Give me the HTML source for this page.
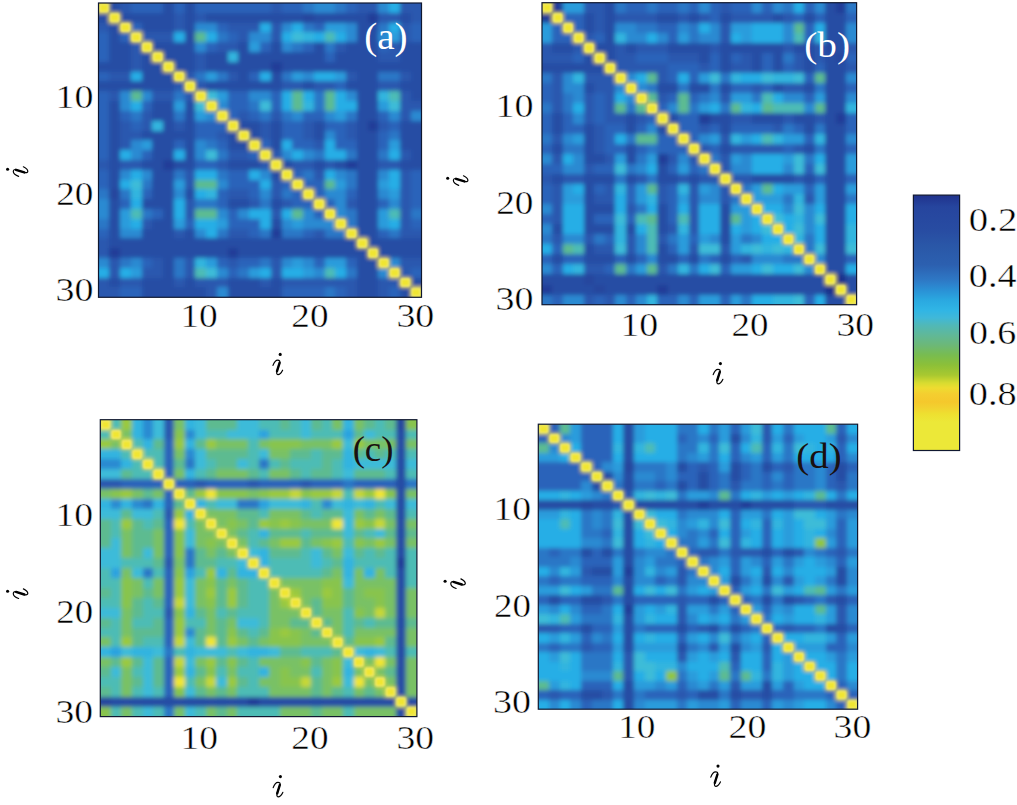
<!DOCTYPE html><html><head><meta charset="utf-8"><style>html,body{margin:0;padding:0;background:#fff;width:1017px;height:805px;overflow:hidden}svg{display:block;font-family:"Liberation Serif",serif}</style></head><body><svg width="1017" height="805" viewBox="0 0 1017 805" font-family="Liberation Serif"><rect width="1017" height="805" fill="#fff"/><svg x="98.5" y="3.0" width="323.00" height="294.30" viewBox="0 0 30 30" preserveAspectRatio="none"><defs><filter id="bla" x="-2" y="-2" width="34" height="34" filterUnits="userSpaceOnUse"><feGaussianBlur stdDeviation="0.1858 0.2039"/></filter><filter id="bda" x="-2" y="-2" width="34" height="34" filterUnits="userSpaceOnUse"><feGaussianBlur stdDeviation="0.0836 0.0917"/></filter></defs><g filter="url(#bla)" shape-rendering="crispEdges"><path fill="#f0e632" d="M-1 -1h1v1h-1zM0 -1h1v1h-1zM-1 0h1v1h-1zM0 0h1v1h-1zM1 1h1v1h-1zM2 2h1v1h-1zM3 3h1v1h-1zM4 4h1v1h-1zM5 5h1v1h-1zM6 6h1v1h-1zM7 7h1v1h-1zM8 8h1v1h-1zM9 9h1v1h-1zM10 10h1v1h-1zM11 11h1v1h-1zM12 12h1v1h-1zM13 13h1v1h-1zM14 14h1v1h-1zM15 15h1v1h-1zM16 16h1v1h-1zM17 17h1v1h-1zM18 18h1v1h-1zM19 19h1v1h-1zM20 20h1v1h-1zM21 21h1v1h-1zM22 22h1v1h-1zM23 23h1v1h-1zM24 24h1v1h-1zM25 25h1v1h-1zM26 26h1v1h-1zM27 27h1v1h-1zM28 28h1v1h-1zM29 29h1v1h-1zM30 29h1v1h-1zM29 30h1v1h-1zM30 30h1v1h-1z"/><path fill="#284ea4" d="M1 -1h1v1h-1zM6 -1h1v1h-1zM8 -1h1v1h-1zM1 0h1v1h-1zM6 0h1v1h-1zM8 0h1v1h-1zM-1 1h1v1h-1zM0 1h1v1h-1zM2 1h1v1h-1zM3 1h1v1h-1zM4 1h1v1h-1zM5 1h1v1h-1zM6 1h1v1h-1zM8 1h1v1h-1zM10 1h1v1h-1zM11 1h1v1h-1zM12 1h1v1h-1zM13 1h1v1h-1zM14 1h1v1h-1zM15 1h1v1h-1zM16 1h1v1h-1zM17 1h1v1h-1zM18 1h1v1h-1zM20 1h1v1h-1zM21 1h1v1h-1zM22 1h1v1h-1zM23 1h1v1h-1zM24 1h1v1h-1zM28 1h1v1h-1zM1 2h1v1h-1zM4 2h1v1h-1zM5 2h1v1h-1zM6 2h1v1h-1zM8 2h1v1h-1zM24 2h1v1h-1zM25 2h1v1h-1zM1 3h1v1h-1zM8 3h1v1h-1zM24 3h1v1h-1zM25 3h1v1h-1zM1 4h1v1h-1zM2 4h1v1h-1zM5 4h1v1h-1zM6 4h1v1h-1zM7 4h1v1h-1zM8 4h1v1h-1zM13 4h1v1h-1zM16 4h1v1h-1zM20 4h1v1h-1zM23 4h1v1h-1zM24 4h1v1h-1zM25 4h1v1h-1zM28 4h1v1h-1zM29 4h1v1h-1zM30 4h1v1h-1zM1 5h1v1h-1zM2 5h1v1h-1zM4 5h1v1h-1zM6 5h1v1h-1zM7 5h1v1h-1zM8 5h1v1h-1zM10 5h1v1h-1zM11 5h1v1h-1zM13 5h1v1h-1zM14 5h1v1h-1zM15 5h1v1h-1zM16 5h1v1h-1zM17 5h1v1h-1zM18 5h1v1h-1zM19 5h1v1h-1zM20 5h1v1h-1zM22 5h1v1h-1zM23 5h1v1h-1zM24 5h1v1h-1zM25 5h1v1h-1zM28 5h1v1h-1zM29 5h1v1h-1zM30 5h1v1h-1zM-1 6h1v1h-1zM0 6h1v1h-1zM1 6h1v1h-1zM2 6h1v1h-1zM4 6h1v1h-1zM5 6h1v1h-1zM7 6h1v1h-1zM8 6h1v1h-1zM10 6h1v1h-1zM11 6h1v1h-1zM12 6h1v1h-1zM13 6h1v1h-1zM14 6h1v1h-1zM15 6h1v1h-1zM17 6h1v1h-1zM18 6h1v1h-1zM19 6h1v1h-1zM20 6h1v1h-1zM21 6h1v1h-1zM22 6h1v1h-1zM23 6h1v1h-1zM24 6h1v1h-1zM25 6h1v1h-1zM26 6h1v1h-1zM27 6h1v1h-1zM28 6h1v1h-1zM29 6h1v1h-1zM30 6h1v1h-1zM4 7h1v1h-1zM5 7h1v1h-1zM6 7h1v1h-1zM13 7h1v1h-1zM16 7h1v1h-1zM24 7h1v1h-1zM25 7h1v1h-1zM29 7h1v1h-1zM30 7h1v1h-1zM-1 8h1v1h-1zM0 8h1v1h-1zM1 8h1v1h-1zM2 8h1v1h-1zM3 8h1v1h-1zM4 8h1v1h-1zM5 8h1v1h-1zM6 8h1v1h-1zM10 8h1v1h-1zM11 8h1v1h-1zM12 8h1v1h-1zM13 8h1v1h-1zM14 8h1v1h-1zM15 8h1v1h-1zM16 8h1v1h-1zM19 8h1v1h-1zM23 8h1v1h-1zM24 8h1v1h-1zM25 8h1v1h-1zM28 8h1v1h-1zM29 8h1v1h-1zM30 8h1v1h-1zM24 9h1v1h-1zM25 9h1v1h-1zM29 9h1v1h-1zM30 9h1v1h-1zM1 10h1v1h-1zM5 10h1v1h-1zM6 10h1v1h-1zM8 10h1v1h-1zM24 10h1v1h-1zM25 10h1v1h-1zM1 11h1v1h-1zM5 11h1v1h-1zM6 11h1v1h-1zM8 11h1v1h-1zM24 11h1v1h-1zM25 11h1v1h-1zM1 12h1v1h-1zM6 12h1v1h-1zM8 12h1v1h-1zM13 12h1v1h-1zM14 12h1v1h-1zM16 12h1v1h-1zM20 12h1v1h-1zM24 12h1v1h-1zM28 12h1v1h-1zM29 12h1v1h-1zM30 12h1v1h-1zM1 13h1v1h-1zM4 13h1v1h-1zM5 13h1v1h-1zM6 13h1v1h-1zM7 13h1v1h-1zM8 13h1v1h-1zM12 13h1v1h-1zM14 13h1v1h-1zM16 13h1v1h-1zM20 13h1v1h-1zM24 13h1v1h-1zM25 13h1v1h-1zM28 13h1v1h-1zM29 13h1v1h-1zM30 13h1v1h-1zM1 14h1v1h-1zM5 14h1v1h-1zM6 14h1v1h-1zM8 14h1v1h-1zM12 14h1v1h-1zM13 14h1v1h-1zM16 14h1v1h-1zM24 14h1v1h-1zM25 14h1v1h-1zM28 14h1v1h-1zM29 14h1v1h-1zM30 14h1v1h-1zM1 15h1v1h-1zM5 15h1v1h-1zM6 15h1v1h-1zM8 15h1v1h-1zM24 15h1v1h-1zM25 15h1v1h-1zM29 15h1v1h-1zM30 15h1v1h-1zM1 16h1v1h-1zM4 16h1v1h-1zM5 16h1v1h-1zM7 16h1v1h-1zM8 16h1v1h-1zM12 16h1v1h-1zM13 16h1v1h-1zM14 16h1v1h-1zM17 16h1v1h-1zM20 16h1v1h-1zM22 16h1v1h-1zM24 16h1v1h-1zM25 16h1v1h-1zM28 16h1v1h-1zM29 16h1v1h-1zM30 16h1v1h-1zM1 17h1v1h-1zM5 17h1v1h-1zM6 17h1v1h-1zM16 17h1v1h-1zM24 17h1v1h-1zM25 17h1v1h-1zM1 18h1v1h-1zM5 18h1v1h-1zM6 18h1v1h-1zM24 18h1v1h-1zM25 18h1v1h-1zM5 19h1v1h-1zM6 19h1v1h-1zM8 19h1v1h-1zM24 19h1v1h-1zM25 19h1v1h-1zM1 20h1v1h-1zM4 20h1v1h-1zM5 20h1v1h-1zM6 20h1v1h-1zM12 20h1v1h-1zM13 20h1v1h-1zM16 20h1v1h-1zM24 20h1v1h-1zM25 20h1v1h-1zM1 21h1v1h-1zM6 21h1v1h-1zM24 21h1v1h-1zM25 21h1v1h-1zM1 22h1v1h-1zM5 22h1v1h-1zM6 22h1v1h-1zM16 22h1v1h-1zM24 22h1v1h-1zM25 22h1v1h-1zM1 23h1v1h-1zM4 23h1v1h-1zM5 23h1v1h-1zM6 23h1v1h-1zM8 23h1v1h-1zM24 23h1v1h-1zM25 23h1v1h-1zM1 24h1v1h-1zM2 24h1v1h-1zM3 24h1v1h-1zM4 24h1v1h-1zM5 24h1v1h-1zM6 24h1v1h-1zM7 24h1v1h-1zM8 24h1v1h-1zM9 24h1v1h-1zM10 24h1v1h-1zM11 24h1v1h-1zM12 24h1v1h-1zM13 24h1v1h-1zM14 24h1v1h-1zM15 24h1v1h-1zM16 24h1v1h-1zM17 24h1v1h-1zM18 24h1v1h-1zM19 24h1v1h-1zM20 24h1v1h-1zM21 24h1v1h-1zM22 24h1v1h-1zM23 24h1v1h-1zM25 24h1v1h-1zM26 24h1v1h-1zM27 24h1v1h-1zM28 24h1v1h-1zM29 24h1v1h-1zM30 24h1v1h-1zM2 25h1v1h-1zM3 25h1v1h-1zM4 25h1v1h-1zM5 25h1v1h-1zM6 25h1v1h-1zM7 25h1v1h-1zM8 25h1v1h-1zM9 25h1v1h-1zM10 25h1v1h-1zM11 25h1v1h-1zM13 25h1v1h-1zM14 25h1v1h-1zM15 25h1v1h-1zM16 25h1v1h-1zM17 25h1v1h-1zM18 25h1v1h-1zM19 25h1v1h-1zM20 25h1v1h-1zM21 25h1v1h-1zM22 25h1v1h-1zM23 25h1v1h-1zM24 25h1v1h-1zM26 25h1v1h-1zM27 25h1v1h-1zM28 25h1v1h-1zM29 25h1v1h-1zM30 25h1v1h-1zM6 26h1v1h-1zM24 26h1v1h-1zM25 26h1v1h-1zM6 27h1v1h-1zM24 27h1v1h-1zM25 27h1v1h-1zM1 28h1v1h-1zM4 28h1v1h-1zM5 28h1v1h-1zM6 28h1v1h-1zM8 28h1v1h-1zM12 28h1v1h-1zM13 28h1v1h-1zM14 28h1v1h-1zM16 28h1v1h-1zM24 28h1v1h-1zM25 28h1v1h-1zM29 28h1v1h-1zM30 28h1v1h-1zM4 29h1v1h-1zM5 29h1v1h-1zM6 29h1v1h-1zM7 29h1v1h-1zM8 29h1v1h-1zM9 29h1v1h-1zM12 29h1v1h-1zM13 29h1v1h-1zM14 29h1v1h-1zM15 29h1v1h-1zM16 29h1v1h-1zM24 29h1v1h-1zM25 29h1v1h-1zM28 29h1v1h-1zM4 30h1v1h-1zM5 30h1v1h-1zM6 30h1v1h-1zM7 30h1v1h-1zM8 30h1v1h-1zM9 30h1v1h-1zM12 30h1v1h-1zM13 30h1v1h-1zM14 30h1v1h-1zM15 30h1v1h-1zM16 30h1v1h-1zM24 30h1v1h-1zM25 30h1v1h-1zM28 30h1v1h-1z"/><path fill="#2a59af" d="M2 -1h1v1h-1zM16 -1h1v1h-1zM24 -1h1v1h-1zM25 -1h1v1h-1zM28 -1h1v1h-1zM29 -1h1v1h-1zM30 -1h1v1h-1zM2 0h1v1h-1zM16 0h1v1h-1zM24 0h1v1h-1zM25 0h1v1h-1zM28 0h1v1h-1zM29 0h1v1h-1zM30 0h1v1h-1zM7 1h1v1h-1zM9 1h1v1h-1zM26 1h1v1h-1zM27 1h1v1h-1zM29 1h1v1h-1zM30 1h1v1h-1zM-1 2h1v1h-1zM0 2h1v1h-1zM7 2h1v1h-1zM12 2h1v1h-1zM13 2h1v1h-1zM14 2h1v1h-1zM16 2h1v1h-1zM28 2h1v1h-1zM4 3h1v1h-1zM5 3h1v1h-1zM6 3h1v1h-1zM13 3h1v1h-1zM16 3h1v1h-1zM28 3h1v1h-1zM3 4h1v1h-1zM11 4h1v1h-1zM12 4h1v1h-1zM22 4h1v1h-1zM27 4h1v1h-1zM3 5h1v1h-1zM9 5h1v1h-1zM26 5h1v1h-1zM27 5h1v1h-1zM3 6h1v1h-1zM9 6h1v1h-1zM1 7h1v1h-1zM2 7h1v1h-1zM8 7h1v1h-1zM12 7h1v1h-1zM23 7h1v1h-1zM28 7h1v1h-1zM7 8h1v1h-1zM9 8h1v1h-1zM17 8h1v1h-1zM18 8h1v1h-1zM20 8h1v1h-1zM21 8h1v1h-1zM26 8h1v1h-1zM27 8h1v1h-1zM1 9h1v1h-1zM5 9h1v1h-1zM6 9h1v1h-1zM8 9h1v1h-1zM28 9h1v1h-1zM28 10h1v1h-1zM29 10h1v1h-1zM30 10h1v1h-1zM4 11h1v1h-1zM13 11h1v1h-1zM16 11h1v1h-1zM28 11h1v1h-1zM2 12h1v1h-1zM4 12h1v1h-1zM7 12h1v1h-1zM15 12h1v1h-1zM19 12h1v1h-1zM23 12h1v1h-1zM26 12h1v1h-1zM2 13h1v1h-1zM3 13h1v1h-1zM11 13h1v1h-1zM15 13h1v1h-1zM19 13h1v1h-1zM23 13h1v1h-1zM2 14h1v1h-1zM20 14h1v1h-1zM12 15h1v1h-1zM13 15h1v1h-1zM16 15h1v1h-1zM28 15h1v1h-1zM-1 16h1v1h-1zM0 16h1v1h-1zM2 16h1v1h-1zM3 16h1v1h-1zM11 16h1v1h-1zM15 16h1v1h-1zM18 16h1v1h-1zM19 16h1v1h-1zM21 16h1v1h-1zM26 16h1v1h-1zM27 16h1v1h-1zM8 17h1v1h-1zM20 17h1v1h-1zM28 17h1v1h-1zM8 18h1v1h-1zM16 18h1v1h-1zM28 18h1v1h-1zM12 19h1v1h-1zM13 19h1v1h-1zM16 19h1v1h-1zM28 19h1v1h-1zM8 20h1v1h-1zM14 20h1v1h-1zM17 20h1v1h-1zM23 20h1v1h-1zM28 20h1v1h-1zM8 21h1v1h-1zM16 21h1v1h-1zM28 21h1v1h-1zM4 22h1v1h-1zM28 22h1v1h-1zM7 23h1v1h-1zM12 23h1v1h-1zM13 23h1v1h-1zM20 23h1v1h-1zM28 23h1v1h-1zM29 23h1v1h-1zM30 23h1v1h-1zM-1 24h1v1h-1zM0 24h1v1h-1zM-1 25h1v1h-1zM0 25h1v1h-1zM1 26h1v1h-1zM5 26h1v1h-1zM8 26h1v1h-1zM12 26h1v1h-1zM16 26h1v1h-1zM28 26h1v1h-1zM29 26h1v1h-1zM30 26h1v1h-1zM1 27h1v1h-1zM4 27h1v1h-1zM5 27h1v1h-1zM8 27h1v1h-1zM16 27h1v1h-1zM28 27h1v1h-1zM-1 28h1v1h-1zM0 28h1v1h-1zM2 28h1v1h-1zM3 28h1v1h-1zM7 28h1v1h-1zM9 28h1v1h-1zM10 28h1v1h-1zM11 28h1v1h-1zM15 28h1v1h-1zM17 28h1v1h-1zM18 28h1v1h-1zM19 28h1v1h-1zM20 28h1v1h-1zM21 28h1v1h-1zM22 28h1v1h-1zM23 28h1v1h-1zM26 28h1v1h-1zM27 28h1v1h-1zM-1 29h1v1h-1zM0 29h1v1h-1zM1 29h1v1h-1zM10 29h1v1h-1zM23 29h1v1h-1zM26 29h1v1h-1zM-1 30h1v1h-1zM0 30h1v1h-1zM1 30h1v1h-1zM10 30h1v1h-1zM23 30h1v1h-1zM26 30h1v1h-1z"/><path fill="#2b64ba" d="M3 -1h1v1h-1zM4 -1h1v1h-1zM5 -1h1v1h-1zM7 -1h1v1h-1zM9 -1h1v1h-1zM10 -1h1v1h-1zM11 -1h1v1h-1zM12 -1h1v1h-1zM13 -1h1v1h-1zM14 -1h1v1h-1zM15 -1h1v1h-1zM17 -1h1v1h-1zM18 -1h1v1h-1zM23 -1h1v1h-1zM3 0h1v1h-1zM4 0h1v1h-1zM5 0h1v1h-1zM7 0h1v1h-1zM9 0h1v1h-1zM10 0h1v1h-1zM11 0h1v1h-1zM12 0h1v1h-1zM13 0h1v1h-1zM14 0h1v1h-1zM15 0h1v1h-1zM17 0h1v1h-1zM18 0h1v1h-1zM23 0h1v1h-1zM3 2h1v1h-1zM11 2h1v1h-1zM20 2h1v1h-1zM29 2h1v1h-1zM30 2h1v1h-1zM-1 3h1v1h-1zM0 3h1v1h-1zM2 3h1v1h-1zM12 3h1v1h-1zM29 3h1v1h-1zM30 3h1v1h-1zM-1 4h1v1h-1zM0 4h1v1h-1zM10 4h1v1h-1zM15 4h1v1h-1zM19 4h1v1h-1zM26 4h1v1h-1zM-1 5h1v1h-1zM0 5h1v1h-1zM21 5h1v1h-1zM-1 7h1v1h-1zM0 7h1v1h-1zM14 7h1v1h-1zM22 8h1v1h-1zM-1 9h1v1h-1zM0 9h1v1h-1zM12 9h1v1h-1zM13 9h1v1h-1zM16 9h1v1h-1zM-1 10h1v1h-1zM0 10h1v1h-1zM4 10h1v1h-1zM12 10h1v1h-1zM13 10h1v1h-1zM16 10h1v1h-1zM-1 11h1v1h-1zM0 11h1v1h-1zM2 11h1v1h-1zM12 11h1v1h-1zM14 11h1v1h-1zM19 11h1v1h-1zM20 11h1v1h-1zM26 11h1v1h-1zM-1 12h1v1h-1zM0 12h1v1h-1zM3 12h1v1h-1zM9 12h1v1h-1zM10 12h1v1h-1zM11 12h1v1h-1zM17 12h1v1h-1zM18 12h1v1h-1zM21 12h1v1h-1zM22 12h1v1h-1zM27 12h1v1h-1zM-1 13h1v1h-1zM0 13h1v1h-1zM9 13h1v1h-1zM10 13h1v1h-1zM17 13h1v1h-1zM18 13h1v1h-1zM22 13h1v1h-1zM26 13h1v1h-1zM-1 14h1v1h-1zM0 14h1v1h-1zM7 14h1v1h-1zM11 14h1v1h-1zM15 14h1v1h-1zM18 14h1v1h-1zM19 14h1v1h-1zM22 14h1v1h-1zM23 14h1v1h-1zM26 14h1v1h-1zM-1 15h1v1h-1zM0 15h1v1h-1zM4 15h1v1h-1zM14 15h1v1h-1zM9 16h1v1h-1zM10 16h1v1h-1zM-1 17h1v1h-1zM0 17h1v1h-1zM12 17h1v1h-1zM13 17h1v1h-1zM18 17h1v1h-1zM29 17h1v1h-1zM30 17h1v1h-1zM-1 18h1v1h-1zM0 18h1v1h-1zM12 18h1v1h-1zM13 18h1v1h-1zM14 18h1v1h-1zM17 18h1v1h-1zM19 18h1v1h-1zM20 18h1v1h-1zM29 18h1v1h-1zM30 18h1v1h-1zM4 19h1v1h-1zM11 19h1v1h-1zM14 19h1v1h-1zM18 19h1v1h-1zM20 19h1v1h-1zM23 19h1v1h-1zM29 19h1v1h-1zM30 19h1v1h-1zM2 20h1v1h-1zM11 20h1v1h-1zM18 20h1v1h-1zM19 20h1v1h-1zM21 20h1v1h-1zM26 20h1v1h-1zM29 20h1v1h-1zM30 20h1v1h-1zM5 21h1v1h-1zM12 21h1v1h-1zM20 21h1v1h-1zM8 22h1v1h-1zM12 22h1v1h-1zM13 22h1v1h-1zM14 22h1v1h-1zM29 22h1v1h-1zM30 22h1v1h-1zM-1 23h1v1h-1zM0 23h1v1h-1zM14 23h1v1h-1zM19 23h1v1h-1zM26 23h1v1h-1zM4 26h1v1h-1zM11 26h1v1h-1zM13 26h1v1h-1zM14 26h1v1h-1zM20 26h1v1h-1zM23 26h1v1h-1zM12 27h1v1h-1zM29 27h1v1h-1zM30 27h1v1h-1zM2 29h1v1h-1zM3 29h1v1h-1zM17 29h1v1h-1zM18 29h1v1h-1zM19 29h1v1h-1zM20 29h1v1h-1zM22 29h1v1h-1zM27 29h1v1h-1zM2 30h1v1h-1zM3 30h1v1h-1zM17 30h1v1h-1zM18 30h1v1h-1zM19 30h1v1h-1zM20 30h1v1h-1zM22 30h1v1h-1zM27 30h1v1h-1z"/><path fill="#2a77c6" d="M19 -1h1v1h-1zM22 -1h1v1h-1zM19 0h1v1h-1zM22 0h1v1h-1zM19 2h1v1h-1zM26 2h1v1h-1zM11 3h1v1h-1zM18 4h1v1h-1zM21 4h1v1h-1zM9 7h1v1h-1zM11 7h1v1h-1zM17 7h1v1h-1zM26 7h1v1h-1zM27 7h1v1h-1zM7 9h1v1h-1zM20 9h1v1h-1zM14 10h1v1h-1zM20 10h1v1h-1zM3 11h1v1h-1zM7 11h1v1h-1zM15 11h1v1h-1zM17 11h1v1h-1zM23 11h1v1h-1zM27 13h1v1h-1zM10 14h1v1h-1zM11 15h1v1h-1zM20 15h1v1h-1zM23 15h1v1h-1zM26 15h1v1h-1zM7 17h1v1h-1zM11 17h1v1h-1zM19 17h1v1h-1zM23 17h1v1h-1zM4 18h1v1h-1zM23 18h1v1h-1zM-1 19h1v1h-1zM0 19h1v1h-1zM2 19h1v1h-1zM17 19h1v1h-1zM9 20h1v1h-1zM10 20h1v1h-1zM15 20h1v1h-1zM4 21h1v1h-1zM23 21h1v1h-1zM29 21h1v1h-1zM30 21h1v1h-1zM-1 22h1v1h-1zM0 22h1v1h-1zM23 22h1v1h-1zM11 23h1v1h-1zM15 23h1v1h-1zM17 23h1v1h-1zM18 23h1v1h-1zM21 23h1v1h-1zM22 23h1v1h-1zM27 23h1v1h-1zM2 26h1v1h-1zM7 26h1v1h-1zM15 26h1v1h-1zM7 27h1v1h-1zM13 27h1v1h-1zM23 27h1v1h-1zM21 29h1v1h-1zM21 30h1v1h-1z"/><path fill="#2a8ad2" d="M20 -1h1v1h-1zM21 -1h1v1h-1zM26 -1h1v1h-1zM20 0h1v1h-1zM21 0h1v1h-1zM26 0h1v1h-1zM9 2h1v1h-1zM10 2h1v1h-1zM17 2h1v1h-1zM23 2h1v1h-1zM14 3h1v1h-1zM15 3h1v1h-1zM23 3h1v1h-1zM26 3h1v1h-1zM9 4h1v1h-1zM17 4h1v1h-1zM19 7h1v1h-1zM2 9h1v1h-1zM4 9h1v1h-1zM14 9h1v1h-1zM15 9h1v1h-1zM23 9h1v1h-1zM2 10h1v1h-1zM11 10h1v1h-1zM10 11h1v1h-1zM18 11h1v1h-1zM21 11h1v1h-1zM27 11h1v1h-1zM29 11h1v1h-1zM30 11h1v1h-1zM21 13h1v1h-1zM3 14h1v1h-1zM9 14h1v1h-1zM3 15h1v1h-1zM9 15h1v1h-1zM17 15h1v1h-1zM19 15h1v1h-1zM2 17h1v1h-1zM4 17h1v1h-1zM15 17h1v1h-1zM22 17h1v1h-1zM26 17h1v1h-1zM11 18h1v1h-1zM7 19h1v1h-1zM15 19h1v1h-1zM21 19h1v1h-1zM22 19h1v1h-1zM26 19h1v1h-1zM-1 20h1v1h-1zM0 20h1v1h-1zM22 20h1v1h-1zM27 20h1v1h-1zM-1 21h1v1h-1zM0 21h1v1h-1zM11 21h1v1h-1zM13 21h1v1h-1zM19 21h1v1h-1zM22 21h1v1h-1zM17 22h1v1h-1zM19 22h1v1h-1zM20 22h1v1h-1zM21 22h1v1h-1zM2 23h1v1h-1zM3 23h1v1h-1zM9 23h1v1h-1zM-1 26h1v1h-1zM0 26h1v1h-1zM3 26h1v1h-1zM17 26h1v1h-1zM19 26h1v1h-1zM27 26h1v1h-1zM11 27h1v1h-1zM20 27h1v1h-1zM26 27h1v1h-1zM11 29h1v1h-1zM11 30h1v1h-1z"/><path fill="#28aee6" d="M27 -1h1v1h-1zM27 0h1v1h-1zM15 2h1v1h-1zM18 2h1v1h-1zM27 2h1v1h-1zM7 3h1v1h-1zM10 3h1v1h-1zM17 3h1v1h-1zM20 3h1v1h-1zM22 3h1v1h-1zM3 7h1v1h-1zM15 7h1v1h-1zM20 7h1v1h-1zM21 7h1v1h-1zM17 9h1v1h-1zM19 9h1v1h-1zM22 9h1v1h-1zM3 10h1v1h-1zM17 10h1v1h-1zM22 10h1v1h-1zM23 10h1v1h-1zM17 14h1v1h-1zM21 14h1v1h-1zM2 15h1v1h-1zM7 15h1v1h-1zM18 15h1v1h-1zM21 15h1v1h-1zM22 15h1v1h-1zM27 15h1v1h-1zM3 17h1v1h-1zM9 17h1v1h-1zM10 17h1v1h-1zM14 17h1v1h-1zM21 17h1v1h-1zM27 17h1v1h-1zM2 18h1v1h-1zM15 18h1v1h-1zM27 18h1v1h-1zM9 19h1v1h-1zM3 20h1v1h-1zM7 20h1v1h-1zM7 21h1v1h-1zM14 21h1v1h-1zM15 21h1v1h-1zM17 21h1v1h-1zM3 22h1v1h-1zM9 22h1v1h-1zM10 22h1v1h-1zM15 22h1v1h-1zM27 22h1v1h-1zM10 23h1v1h-1zM-1 27h1v1h-1zM0 27h1v1h-1zM2 27h1v1h-1zM15 27h1v1h-1zM17 27h1v1h-1zM18 27h1v1h-1zM22 27h1v1h-1z"/><path fill="#26469e" d="M19 1h1v1h-1zM1 19h1v1h-1z"/><path fill="#243e98" d="M25 1h1v1h-1zM16 6h1v1h-1zM25 12h1v1h-1zM6 16h1v1h-1zM23 16h1v1h-1zM16 23h1v1h-1zM1 25h1v1h-1zM12 25h1v1h-1z"/><path fill="#299cdc" d="M21 2h1v1h-1zM22 2h1v1h-1zM27 3h1v1h-1zM14 4h1v1h-1zM10 7h1v1h-1zM18 7h1v1h-1zM22 7h1v1h-1zM11 9h1v1h-1zM7 10h1v1h-1zM26 10h1v1h-1zM9 11h1v1h-1zM22 11h1v1h-1zM4 14h1v1h-1zM27 14h1v1h-1zM7 18h1v1h-1zM22 18h1v1h-1zM26 18h1v1h-1zM27 19h1v1h-1zM2 21h1v1h-1zM26 21h1v1h-1zM2 22h1v1h-1zM7 22h1v1h-1zM11 22h1v1h-1zM18 22h1v1h-1zM26 22h1v1h-1zM10 26h1v1h-1zM18 26h1v1h-1zM21 26h1v1h-1zM22 26h1v1h-1zM3 27h1v1h-1zM14 27h1v1h-1zM19 27h1v1h-1z"/><path fill="#5cbb92" d="M9 3h1v1h-1zM3 9h1v1h-1zM18 9h1v1h-1zM21 9h1v1h-1zM18 10h1v1h-1zM21 10h1v1h-1zM9 18h1v1h-1zM10 18h1v1h-1zM21 18h1v1h-1zM9 21h1v1h-1zM10 21h1v1h-1zM18 21h1v1h-1z"/><path fill="#3ebcd8" d="M18 3h1v1h-1zM10 9h1v1h-1zM9 10h1v1h-1zM15 10h1v1h-1zM27 10h1v1h-1zM10 15h1v1h-1zM3 18h1v1h-1zM10 27h1v1h-1z"/><path fill="#33b5df" d="M19 3h1v1h-1zM12 5h1v1h-1zM26 9h1v1h-1zM19 10h1v1h-1zM5 12h1v1h-1zM3 19h1v1h-1zM10 19h1v1h-1zM9 26h1v1h-1z"/><path fill="#4dbcb5" d="M21 3h1v1h-1zM27 9h1v1h-1zM3 21h1v1h-1zM27 21h1v1h-1zM9 27h1v1h-1zM21 27h1v1h-1z"/></g><path filter="url(#bda)" fill="none" stroke="#10204a" stroke-opacity="0.22" stroke-width="0.14" d="M0.02 0.02h0.96v0.96h-0.96zM1.02 1.02h0.96v0.96h-0.96zM2.02 2.02h0.96v0.96h-0.96zM3.02 3.02h0.96v0.96h-0.96zM4.02 4.02h0.96v0.96h-0.96zM5.02 5.02h0.96v0.96h-0.96zM6.02 6.02h0.96v0.96h-0.96zM7.02 7.02h0.96v0.96h-0.96zM8.02 8.02h0.96v0.96h-0.96zM9.02 9.02h0.96v0.96h-0.96zM10.02 10.02h0.96v0.96h-0.96zM11.02 11.02h0.96v0.96h-0.96zM12.02 12.02h0.96v0.96h-0.96zM13.02 13.02h0.96v0.96h-0.96zM14.02 14.02h0.96v0.96h-0.96zM15.02 15.02h0.96v0.96h-0.96zM16.02 16.02h0.96v0.96h-0.96zM17.02 17.02h0.96v0.96h-0.96zM18.02 18.02h0.96v0.96h-0.96zM19.02 19.02h0.96v0.96h-0.96zM20.02 20.02h0.96v0.96h-0.96zM21.02 21.02h0.96v0.96h-0.96zM22.02 22.02h0.96v0.96h-0.96zM23.02 23.02h0.96v0.96h-0.96zM24.02 24.02h0.96v0.96h-0.96zM25.02 25.02h0.96v0.96h-0.96zM26.02 26.02h0.96v0.96h-0.96zM27.02 27.02h0.96v0.96h-0.96zM28.02 28.02h0.96v0.96h-0.96zM29.02 29.02h0.96v0.96h-0.96z"/><path filter="url(#bda)" fill="#f0e632" stroke="#f6f0a0" stroke-width="0.07" d="M0.09 0.09h0.82v0.82h-0.82zM1.09 1.09h0.82v0.82h-0.82zM2.09 2.09h0.82v0.82h-0.82zM3.09 3.09h0.82v0.82h-0.82zM4.09 4.09h0.82v0.82h-0.82zM5.09 5.09h0.82v0.82h-0.82zM6.09 6.09h0.82v0.82h-0.82zM7.09 7.09h0.82v0.82h-0.82zM8.09 8.09h0.82v0.82h-0.82zM9.09 9.09h0.82v0.82h-0.82zM10.09 10.09h0.82v0.82h-0.82zM11.09 11.09h0.82v0.82h-0.82zM12.09 12.09h0.82v0.82h-0.82zM13.09 13.09h0.82v0.82h-0.82zM14.09 14.09h0.82v0.82h-0.82zM15.09 15.09h0.82v0.82h-0.82zM16.09 16.09h0.82v0.82h-0.82zM17.09 17.09h0.82v0.82h-0.82zM18.09 18.09h0.82v0.82h-0.82zM19.09 19.09h0.82v0.82h-0.82zM20.09 20.09h0.82v0.82h-0.82zM21.09 21.09h0.82v0.82h-0.82zM22.09 22.09h0.82v0.82h-0.82zM23.09 23.09h0.82v0.82h-0.82zM24.09 24.09h0.82v0.82h-0.82zM25.09 25.09h0.82v0.82h-0.82zM26.09 26.09h0.82v0.82h-0.82zM27.09 27.09h0.82v0.82h-0.82zM28.09 28.09h0.82v0.82h-0.82zM29.09 29.09h0.82v0.82h-0.82z"/></svg><rect x="98.5" y="3.0" width="323.00" height="294.30" fill="none" stroke="#101830" stroke-width="1.2"/><svg x="542.0" y="2.7" width="314.60" height="302.00" viewBox="0 0 30 30" preserveAspectRatio="none"><defs><filter id="blb" x="-2" y="-2" width="34" height="34" filterUnits="userSpaceOnUse"><feGaussianBlur stdDeviation="0.1907 0.1987"/></filter><filter id="bdb" x="-2" y="-2" width="34" height="34" filterUnits="userSpaceOnUse"><feGaussianBlur stdDeviation="0.0858 0.0894"/></filter></defs><g filter="url(#blb)" shape-rendering="crispEdges"><path fill="#f0e632" d="M-1 -1h1v1h-1zM0 -1h1v1h-1zM-1 0h1v1h-1zM0 0h1v1h-1zM1 1h1v1h-1zM2 2h1v1h-1zM3 3h1v1h-1zM4 4h1v1h-1zM5 5h1v1h-1zM6 6h1v1h-1zM7 7h1v1h-1zM8 8h1v1h-1zM9 9h1v1h-1zM10 10h1v1h-1zM11 11h1v1h-1zM12 12h1v1h-1zM13 13h1v1h-1zM14 14h1v1h-1zM15 15h1v1h-1zM16 16h1v1h-1zM17 17h1v1h-1zM18 18h1v1h-1zM19 19h1v1h-1zM20 20h1v1h-1zM21 21h1v1h-1zM22 22h1v1h-1zM23 23h1v1h-1zM24 24h1v1h-1zM25 25h1v1h-1zM26 26h1v1h-1zM27 27h1v1h-1zM28 28h1v1h-1zM29 29h1v1h-1zM30 29h1v1h-1zM29 30h1v1h-1zM30 30h1v1h-1z"/><path fill="#243e98" d="M1 -1h1v1h-1zM28 -1h1v1h-1zM1 0h1v1h-1zM28 0h1v1h-1zM-1 1h1v1h-1zM0 1h1v1h-1zM15 11h1v1h-1zM28 11h1v1h-1zM11 15h1v1h-1zM-1 28h1v1h-1zM0 28h1v1h-1zM11 28h1v1h-1z"/><path fill="#299cdc" d="M2 -1h1v1h-1zM3 -1h1v1h-1zM2 0h1v1h-1zM3 0h1v1h-1zM-1 2h1v1h-1zM0 2h1v1h-1zM18 2h1v1h-1zM19 2h1v1h-1zM-1 3h1v1h-1zM0 3h1v1h-1zM13 3h1v1h-1zM19 3h1v1h-1zM15 7h1v1h-1zM18 9h1v1h-1zM19 9h1v1h-1zM26 9h1v1h-1zM15 10h1v1h-1zM3 13h1v1h-1zM16 13h1v1h-1zM19 13h1v1h-1zM23 13h1v1h-1zM24 13h1v1h-1zM7 15h1v1h-1zM10 15h1v1h-1zM18 15h1v1h-1zM23 15h1v1h-1zM29 15h1v1h-1zM30 15h1v1h-1zM13 16h1v1h-1zM29 16h1v1h-1zM30 16h1v1h-1zM2 18h1v1h-1zM9 18h1v1h-1zM15 18h1v1h-1zM20 18h1v1h-1zM23 18h1v1h-1zM24 18h1v1h-1zM26 18h1v1h-1zM29 18h1v1h-1zM30 18h1v1h-1zM2 19h1v1h-1zM3 19h1v1h-1zM9 19h1v1h-1zM13 19h1v1h-1zM20 19h1v1h-1zM21 19h1v1h-1zM22 19h1v1h-1zM26 19h1v1h-1zM18 20h1v1h-1zM19 20h1v1h-1zM19 21h1v1h-1zM19 22h1v1h-1zM13 23h1v1h-1zM15 23h1v1h-1zM18 23h1v1h-1zM13 24h1v1h-1zM18 24h1v1h-1zM9 26h1v1h-1zM18 26h1v1h-1zM19 26h1v1h-1zM15 29h1v1h-1zM16 29h1v1h-1zM18 29h1v1h-1zM15 30h1v1h-1zM16 30h1v1h-1zM18 30h1v1h-1z"/><path fill="#2a59af" d="M4 -1h1v1h-1zM5 -1h1v1h-1zM17 -1h1v1h-1zM4 0h1v1h-1zM5 0h1v1h-1zM17 0h1v1h-1zM5 1h1v1h-1zM7 1h1v1h-1zM8 1h1v1h-1zM9 1h1v1h-1zM10 1h1v1h-1zM13 1h1v1h-1zM15 1h1v1h-1zM18 1h1v1h-1zM19 1h1v1h-1zM20 1h1v1h-1zM21 1h1v1h-1zM23 1h1v1h-1zM5 2h1v1h-1zM17 2h1v1h-1zM4 3h1v1h-1zM17 3h1v1h-1zM-1 4h1v1h-1zM0 4h1v1h-1zM3 4h1v1h-1zM7 4h1v1h-1zM9 4h1v1h-1zM10 4h1v1h-1zM11 4h1v1h-1zM16 4h1v1h-1zM23 4h1v1h-1zM26 4h1v1h-1zM29 4h1v1h-1zM30 4h1v1h-1zM-1 5h1v1h-1zM0 5h1v1h-1zM1 5h1v1h-1zM2 5h1v1h-1zM7 5h1v1h-1zM8 5h1v1h-1zM12 5h1v1h-1zM13 5h1v1h-1zM14 5h1v1h-1zM19 5h1v1h-1zM24 5h1v1h-1zM26 5h1v1h-1zM7 6h1v1h-1zM8 6h1v1h-1zM9 6h1v1h-1zM10 6h1v1h-1zM11 6h1v1h-1zM15 6h1v1h-1zM18 6h1v1h-1zM19 6h1v1h-1zM24 6h1v1h-1zM29 6h1v1h-1zM30 6h1v1h-1zM1 7h1v1h-1zM4 7h1v1h-1zM5 7h1v1h-1zM6 7h1v1h-1zM11 7h1v1h-1zM1 8h1v1h-1zM5 8h1v1h-1zM6 8h1v1h-1zM20 8h1v1h-1zM23 8h1v1h-1zM24 8h1v1h-1zM1 9h1v1h-1zM4 9h1v1h-1zM6 9h1v1h-1zM11 9h1v1h-1zM17 9h1v1h-1zM1 10h1v1h-1zM4 10h1v1h-1zM6 10h1v1h-1zM4 11h1v1h-1zM6 11h1v1h-1zM7 11h1v1h-1zM9 11h1v1h-1zM18 11h1v1h-1zM19 11h1v1h-1zM23 11h1v1h-1zM26 11h1v1h-1zM5 12h1v1h-1zM15 12h1v1h-1zM22 12h1v1h-1zM1 13h1v1h-1zM5 13h1v1h-1zM17 13h1v1h-1zM5 14h1v1h-1zM15 14h1v1h-1zM18 14h1v1h-1zM19 14h1v1h-1zM20 14h1v1h-1zM21 14h1v1h-1zM22 14h1v1h-1zM24 14h1v1h-1zM1 15h1v1h-1zM6 15h1v1h-1zM12 15h1v1h-1zM14 15h1v1h-1zM17 15h1v1h-1zM4 16h1v1h-1zM17 16h1v1h-1zM-1 17h1v1h-1zM0 17h1v1h-1zM2 17h1v1h-1zM3 17h1v1h-1zM9 17h1v1h-1zM13 17h1v1h-1zM15 17h1v1h-1zM16 17h1v1h-1zM18 17h1v1h-1zM19 17h1v1h-1zM24 17h1v1h-1zM1 18h1v1h-1zM6 18h1v1h-1zM11 18h1v1h-1zM14 18h1v1h-1zM17 18h1v1h-1zM1 19h1v1h-1zM5 19h1v1h-1zM6 19h1v1h-1zM11 19h1v1h-1zM14 19h1v1h-1zM17 19h1v1h-1zM25 19h1v1h-1zM1 20h1v1h-1zM8 20h1v1h-1zM14 20h1v1h-1zM1 21h1v1h-1zM14 21h1v1h-1zM12 22h1v1h-1zM14 22h1v1h-1zM1 23h1v1h-1zM4 23h1v1h-1zM8 23h1v1h-1zM11 23h1v1h-1zM5 24h1v1h-1zM6 24h1v1h-1zM8 24h1v1h-1zM14 24h1v1h-1zM17 24h1v1h-1zM19 25h1v1h-1zM4 26h1v1h-1zM5 26h1v1h-1zM11 26h1v1h-1zM4 29h1v1h-1zM6 29h1v1h-1zM4 30h1v1h-1zM6 30h1v1h-1z"/><path fill="#284ea4" d="M6 -1h1v1h-1zM27 -1h1v1h-1zM6 0h1v1h-1zM27 0h1v1h-1zM4 1h1v1h-1zM6 1h1v1h-1zM11 1h1v1h-1zM12 1h1v1h-1zM14 1h1v1h-1zM17 1h1v1h-1zM22 1h1v1h-1zM25 1h1v1h-1zM27 1h1v1h-1zM28 1h1v1h-1zM4 2h1v1h-1zM6 2h1v1h-1zM27 2h1v1h-1zM28 2h1v1h-1zM6 3h1v1h-1zM27 3h1v1h-1zM28 3h1v1h-1zM1 4h1v1h-1zM2 4h1v1h-1zM5 4h1v1h-1zM6 4h1v1h-1zM8 4h1v1h-1zM12 4h1v1h-1zM13 4h1v1h-1zM14 4h1v1h-1zM15 4h1v1h-1zM17 4h1v1h-1zM18 4h1v1h-1zM19 4h1v1h-1zM20 4h1v1h-1zM21 4h1v1h-1zM22 4h1v1h-1zM24 4h1v1h-1zM25 4h1v1h-1zM28 4h1v1h-1zM4 5h1v1h-1zM6 5h1v1h-1zM15 5h1v1h-1zM17 5h1v1h-1zM20 5h1v1h-1zM22 5h1v1h-1zM25 5h1v1h-1zM27 5h1v1h-1zM-1 6h1v1h-1zM0 6h1v1h-1zM1 6h1v1h-1zM2 6h1v1h-1zM3 6h1v1h-1zM4 6h1v1h-1zM5 6h1v1h-1zM17 6h1v1h-1zM20 6h1v1h-1zM22 6h1v1h-1zM25 6h1v1h-1zM27 6h1v1h-1zM28 6h1v1h-1zM27 7h1v1h-1zM28 7h1v1h-1zM4 8h1v1h-1zM11 8h1v1h-1zM12 8h1v1h-1zM14 8h1v1h-1zM15 8h1v1h-1zM17 8h1v1h-1zM22 8h1v1h-1zM25 8h1v1h-1zM27 8h1v1h-1zM28 8h1v1h-1zM27 9h1v1h-1zM28 9h1v1h-1zM27 10h1v1h-1zM28 10h1v1h-1zM1 11h1v1h-1zM8 11h1v1h-1zM12 11h1v1h-1zM16 11h1v1h-1zM17 11h1v1h-1zM20 11h1v1h-1zM21 11h1v1h-1zM22 11h1v1h-1zM24 11h1v1h-1zM25 11h1v1h-1zM27 11h1v1h-1zM1 12h1v1h-1zM4 12h1v1h-1zM8 12h1v1h-1zM11 12h1v1h-1zM17 12h1v1h-1zM25 12h1v1h-1zM27 12h1v1h-1zM28 12h1v1h-1zM4 13h1v1h-1zM27 13h1v1h-1zM28 13h1v1h-1zM1 14h1v1h-1zM4 14h1v1h-1zM8 14h1v1h-1zM17 14h1v1h-1zM25 14h1v1h-1zM27 14h1v1h-1zM28 14h1v1h-1zM4 15h1v1h-1zM5 15h1v1h-1zM8 15h1v1h-1zM27 15h1v1h-1zM28 15h1v1h-1zM11 16h1v1h-1zM27 16h1v1h-1zM28 16h1v1h-1zM1 17h1v1h-1zM4 17h1v1h-1zM5 17h1v1h-1zM6 17h1v1h-1zM8 17h1v1h-1zM11 17h1v1h-1zM12 17h1v1h-1zM14 17h1v1h-1zM20 17h1v1h-1zM21 17h1v1h-1zM22 17h1v1h-1zM23 17h1v1h-1zM25 17h1v1h-1zM27 17h1v1h-1zM28 17h1v1h-1zM4 18h1v1h-1zM27 18h1v1h-1zM28 18h1v1h-1zM4 19h1v1h-1zM27 19h1v1h-1zM28 19h1v1h-1zM4 20h1v1h-1zM5 20h1v1h-1zM6 20h1v1h-1zM11 20h1v1h-1zM17 20h1v1h-1zM27 20h1v1h-1zM28 20h1v1h-1zM4 21h1v1h-1zM11 21h1v1h-1zM17 21h1v1h-1zM27 21h1v1h-1zM28 21h1v1h-1zM1 22h1v1h-1zM4 22h1v1h-1zM5 22h1v1h-1zM6 22h1v1h-1zM8 22h1v1h-1zM11 22h1v1h-1zM17 22h1v1h-1zM27 22h1v1h-1zM28 22h1v1h-1zM17 23h1v1h-1zM27 23h1v1h-1zM28 23h1v1h-1zM4 24h1v1h-1zM11 24h1v1h-1zM27 24h1v1h-1zM28 24h1v1h-1zM1 25h1v1h-1zM4 25h1v1h-1zM5 25h1v1h-1zM6 25h1v1h-1zM8 25h1v1h-1zM11 25h1v1h-1zM12 25h1v1h-1zM14 25h1v1h-1zM17 25h1v1h-1zM27 25h1v1h-1zM28 25h1v1h-1zM27 26h1v1h-1zM28 26h1v1h-1zM-1 27h1v1h-1zM0 27h1v1h-1zM1 27h1v1h-1zM2 27h1v1h-1zM3 27h1v1h-1zM5 27h1v1h-1zM6 27h1v1h-1zM7 27h1v1h-1zM8 27h1v1h-1zM9 27h1v1h-1zM10 27h1v1h-1zM11 27h1v1h-1zM12 27h1v1h-1zM13 27h1v1h-1zM14 27h1v1h-1zM15 27h1v1h-1zM16 27h1v1h-1zM17 27h1v1h-1zM18 27h1v1h-1zM19 27h1v1h-1zM20 27h1v1h-1zM21 27h1v1h-1zM22 27h1v1h-1zM23 27h1v1h-1zM24 27h1v1h-1zM25 27h1v1h-1zM26 27h1v1h-1zM29 27h1v1h-1zM30 27h1v1h-1zM1 28h1v1h-1zM2 28h1v1h-1zM3 28h1v1h-1zM4 28h1v1h-1zM6 28h1v1h-1zM7 28h1v1h-1zM8 28h1v1h-1zM9 28h1v1h-1zM10 28h1v1h-1zM12 28h1v1h-1zM13 28h1v1h-1zM14 28h1v1h-1zM15 28h1v1h-1zM16 28h1v1h-1zM17 28h1v1h-1zM18 28h1v1h-1zM19 28h1v1h-1zM20 28h1v1h-1zM21 28h1v1h-1zM22 28h1v1h-1zM23 28h1v1h-1zM24 28h1v1h-1zM25 28h1v1h-1zM26 28h1v1h-1zM29 28h1v1h-1zM30 28h1v1h-1zM27 29h1v1h-1zM28 29h1v1h-1zM27 30h1v1h-1zM28 30h1v1h-1z"/><path fill="#2a77c6" d="M7 -1h1v1h-1zM10 -1h1v1h-1zM13 -1h1v1h-1zM23 -1h1v1h-1zM29 -1h1v1h-1zM30 -1h1v1h-1zM7 0h1v1h-1zM10 0h1v1h-1zM13 0h1v1h-1zM23 0h1v1h-1zM29 0h1v1h-1zM30 0h1v1h-1zM9 2h1v1h-1zM10 2h1v1h-1zM14 2h1v1h-1zM14 3h1v1h-1zM23 5h1v1h-1zM-1 7h1v1h-1zM0 7h1v1h-1zM17 7h1v1h-1zM10 8h1v1h-1zM13 8h1v1h-1zM16 8h1v1h-1zM26 8h1v1h-1zM2 9h1v1h-1zM15 9h1v1h-1zM20 9h1v1h-1zM-1 10h1v1h-1zM0 10h1v1h-1zM2 10h1v1h-1zM8 10h1v1h-1zM14 10h1v1h-1zM17 10h1v1h-1zM23 12h1v1h-1zM26 12h1v1h-1zM-1 13h1v1h-1zM0 13h1v1h-1zM8 13h1v1h-1zM2 14h1v1h-1zM3 14h1v1h-1zM10 14h1v1h-1zM26 14h1v1h-1zM9 15h1v1h-1zM16 15h1v1h-1zM25 15h1v1h-1zM8 16h1v1h-1zM15 16h1v1h-1zM7 17h1v1h-1zM10 17h1v1h-1zM19 18h1v1h-1zM18 19h1v1h-1zM23 19h1v1h-1zM29 19h1v1h-1zM30 19h1v1h-1zM9 20h1v1h-1zM-1 23h1v1h-1zM0 23h1v1h-1zM5 23h1v1h-1zM12 23h1v1h-1zM19 23h1v1h-1zM25 23h1v1h-1zM25 24h1v1h-1zM15 25h1v1h-1zM23 25h1v1h-1zM24 25h1v1h-1zM8 26h1v1h-1zM12 26h1v1h-1zM14 26h1v1h-1zM-1 29h1v1h-1zM0 29h1v1h-1zM19 29h1v1h-1zM-1 30h1v1h-1zM0 30h1v1h-1zM19 30h1v1h-1z"/><path fill="#2b64ba" d="M8 -1h1v1h-1zM9 -1h1v1h-1zM11 -1h1v1h-1zM12 -1h1v1h-1zM14 -1h1v1h-1zM16 -1h1v1h-1zM18 -1h1v1h-1zM19 -1h1v1h-1zM21 -1h1v1h-1zM25 -1h1v1h-1zM8 0h1v1h-1zM9 0h1v1h-1zM11 0h1v1h-1zM12 0h1v1h-1zM14 0h1v1h-1zM16 0h1v1h-1zM18 0h1v1h-1zM19 0h1v1h-1zM21 0h1v1h-1zM25 0h1v1h-1zM2 1h1v1h-1zM3 1h1v1h-1zM16 1h1v1h-1zM24 1h1v1h-1zM26 1h1v1h-1zM29 1h1v1h-1zM30 1h1v1h-1zM1 2h1v1h-1zM3 2h1v1h-1zM11 2h1v1h-1zM12 2h1v1h-1zM25 2h1v1h-1zM1 3h1v1h-1zM2 3h1v1h-1zM5 3h1v1h-1zM12 3h1v1h-1zM25 3h1v1h-1zM3 5h1v1h-1zM9 5h1v1h-1zM10 5h1v1h-1zM11 5h1v1h-1zM16 5h1v1h-1zM18 5h1v1h-1zM21 5h1v1h-1zM29 5h1v1h-1zM30 5h1v1h-1zM12 6h1v1h-1zM13 6h1v1h-1zM14 6h1v1h-1zM16 6h1v1h-1zM21 6h1v1h-1zM23 6h1v1h-1zM26 6h1v1h-1zM12 7h1v1h-1zM14 7h1v1h-1zM25 7h1v1h-1zM-1 8h1v1h-1zM0 8h1v1h-1zM18 8h1v1h-1zM19 8h1v1h-1zM21 8h1v1h-1zM29 8h1v1h-1zM30 8h1v1h-1zM-1 9h1v1h-1zM0 9h1v1h-1zM5 9h1v1h-1zM12 9h1v1h-1zM14 9h1v1h-1zM25 9h1v1h-1zM5 10h1v1h-1zM11 10h1v1h-1zM-1 11h1v1h-1zM0 11h1v1h-1zM2 11h1v1h-1zM5 11h1v1h-1zM10 11h1v1h-1zM13 11h1v1h-1zM14 11h1v1h-1zM29 11h1v1h-1zM30 11h1v1h-1zM-1 12h1v1h-1zM0 12h1v1h-1zM2 12h1v1h-1zM3 12h1v1h-1zM6 12h1v1h-1zM7 12h1v1h-1zM9 12h1v1h-1zM13 12h1v1h-1zM14 12h1v1h-1zM16 12h1v1h-1zM18 12h1v1h-1zM19 12h1v1h-1zM20 12h1v1h-1zM21 12h1v1h-1zM24 12h1v1h-1zM29 12h1v1h-1zM30 12h1v1h-1zM6 13h1v1h-1zM11 13h1v1h-1zM12 13h1v1h-1zM14 13h1v1h-1zM25 13h1v1h-1zM-1 14h1v1h-1zM0 14h1v1h-1zM6 14h1v1h-1zM7 14h1v1h-1zM9 14h1v1h-1zM11 14h1v1h-1zM12 14h1v1h-1zM13 14h1v1h-1zM16 14h1v1h-1zM23 14h1v1h-1zM29 14h1v1h-1zM30 14h1v1h-1zM-1 16h1v1h-1zM0 16h1v1h-1zM1 16h1v1h-1zM5 16h1v1h-1zM6 16h1v1h-1zM12 16h1v1h-1zM14 16h1v1h-1zM25 16h1v1h-1zM26 17h1v1h-1zM29 17h1v1h-1zM30 17h1v1h-1zM-1 18h1v1h-1zM0 18h1v1h-1zM5 18h1v1h-1zM8 18h1v1h-1zM12 18h1v1h-1zM25 18h1v1h-1zM-1 19h1v1h-1zM0 19h1v1h-1zM8 19h1v1h-1zM12 19h1v1h-1zM12 20h1v1h-1zM-1 21h1v1h-1zM0 21h1v1h-1zM5 21h1v1h-1zM6 21h1v1h-1zM8 21h1v1h-1zM12 21h1v1h-1zM6 23h1v1h-1zM14 23h1v1h-1zM1 24h1v1h-1zM12 24h1v1h-1zM-1 25h1v1h-1zM0 25h1v1h-1zM2 25h1v1h-1zM3 25h1v1h-1zM7 25h1v1h-1zM9 25h1v1h-1zM13 25h1v1h-1zM16 25h1v1h-1zM18 25h1v1h-1zM29 25h1v1h-1zM30 25h1v1h-1zM1 26h1v1h-1zM6 26h1v1h-1zM17 26h1v1h-1zM1 29h1v1h-1zM5 29h1v1h-1zM8 29h1v1h-1zM11 29h1v1h-1zM12 29h1v1h-1zM14 29h1v1h-1zM17 29h1v1h-1zM25 29h1v1h-1zM1 30h1v1h-1zM5 30h1v1h-1zM8 30h1v1h-1zM11 30h1v1h-1zM12 30h1v1h-1zM14 30h1v1h-1zM17 30h1v1h-1zM25 30h1v1h-1z"/><path fill="#2a8ad2" d="M15 -1h1v1h-1zM20 -1h1v1h-1zM22 -1h1v1h-1zM26 -1h1v1h-1zM15 0h1v1h-1zM20 0h1v1h-1zM22 0h1v1h-1zM26 0h1v1h-1zM7 2h1v1h-1zM8 2h1v1h-1zM13 2h1v1h-1zM16 2h1v1h-1zM23 2h1v1h-1zM29 2h1v1h-1zM30 2h1v1h-1zM8 3h1v1h-1zM9 3h1v1h-1zM11 3h1v1h-1zM15 3h1v1h-1zM16 3h1v1h-1zM23 3h1v1h-1zM29 3h1v1h-1zM30 3h1v1h-1zM2 7h1v1h-1zM8 7h1v1h-1zM29 7h1v1h-1zM30 7h1v1h-1zM2 8h1v1h-1zM3 8h1v1h-1zM7 8h1v1h-1zM9 8h1v1h-1zM3 9h1v1h-1zM8 9h1v1h-1zM16 9h1v1h-1zM23 9h1v1h-1zM24 9h1v1h-1zM29 9h1v1h-1zM30 9h1v1h-1zM12 10h1v1h-1zM25 10h1v1h-1zM3 11h1v1h-1zM10 12h1v1h-1zM2 13h1v1h-1zM15 13h1v1h-1zM29 13h1v1h-1zM30 13h1v1h-1zM-1 15h1v1h-1zM0 15h1v1h-1zM3 15h1v1h-1zM13 15h1v1h-1zM19 15h1v1h-1zM2 16h1v1h-1zM3 16h1v1h-1zM9 16h1v1h-1zM18 16h1v1h-1zM19 16h1v1h-1zM23 16h1v1h-1zM16 18h1v1h-1zM15 19h1v1h-1zM16 19h1v1h-1zM-1 20h1v1h-1zM0 20h1v1h-1zM23 20h1v1h-1zM25 20h1v1h-1zM25 21h1v1h-1zM-1 22h1v1h-1zM0 22h1v1h-1zM25 22h1v1h-1zM2 23h1v1h-1zM3 23h1v1h-1zM9 23h1v1h-1zM16 23h1v1h-1zM20 23h1v1h-1zM9 24h1v1h-1zM10 25h1v1h-1zM20 25h1v1h-1zM21 25h1v1h-1zM22 25h1v1h-1zM26 25h1v1h-1zM-1 26h1v1h-1zM0 26h1v1h-1zM25 26h1v1h-1zM2 29h1v1h-1zM3 29h1v1h-1zM7 29h1v1h-1zM9 29h1v1h-1zM13 29h1v1h-1zM2 30h1v1h-1zM3 30h1v1h-1zM7 30h1v1h-1zM9 30h1v1h-1zM13 30h1v1h-1z"/><path fill="#28aee6" d="M24 -1h1v1h-1zM24 0h1v1h-1zM15 2h1v1h-1zM20 2h1v1h-1zM21 2h1v1h-1zM22 2h1v1h-1zM26 2h1v1h-1zM10 3h1v1h-1zM18 3h1v1h-1zM20 3h1v1h-1zM21 3h1v1h-1zM22 3h1v1h-1zM9 7h1v1h-1zM13 7h1v1h-1zM19 7h1v1h-1zM20 7h1v1h-1zM7 9h1v1h-1zM22 9h1v1h-1zM3 10h1v1h-1zM16 10h1v1h-1zM20 10h1v1h-1zM7 13h1v1h-1zM20 13h1v1h-1zM2 15h1v1h-1zM20 15h1v1h-1zM21 15h1v1h-1zM22 15h1v1h-1zM26 15h1v1h-1zM10 16h1v1h-1zM20 16h1v1h-1zM21 16h1v1h-1zM22 16h1v1h-1zM3 18h1v1h-1zM22 18h1v1h-1zM7 19h1v1h-1zM2 20h1v1h-1zM3 20h1v1h-1zM7 20h1v1h-1zM10 20h1v1h-1zM13 20h1v1h-1zM15 20h1v1h-1zM16 20h1v1h-1zM21 20h1v1h-1zM22 20h1v1h-1zM26 20h1v1h-1zM29 20h1v1h-1zM30 20h1v1h-1zM2 21h1v1h-1zM3 21h1v1h-1zM15 21h1v1h-1zM16 21h1v1h-1zM20 21h1v1h-1zM23 21h1v1h-1zM29 21h1v1h-1zM30 21h1v1h-1zM2 22h1v1h-1zM3 22h1v1h-1zM9 22h1v1h-1zM15 22h1v1h-1zM16 22h1v1h-1zM18 22h1v1h-1zM20 22h1v1h-1zM23 22h1v1h-1zM26 22h1v1h-1zM21 23h1v1h-1zM22 23h1v1h-1zM26 23h1v1h-1zM-1 24h1v1h-1zM0 24h1v1h-1zM2 26h1v1h-1zM15 26h1v1h-1zM20 26h1v1h-1zM22 26h1v1h-1zM23 26h1v1h-1zM29 26h1v1h-1zM30 26h1v1h-1zM20 29h1v1h-1zM21 29h1v1h-1zM26 29h1v1h-1zM20 30h1v1h-1zM21 30h1v1h-1zM26 30h1v1h-1z"/><path fill="#5cbb92" d="M24 2h1v1h-1zM10 7h1v1h-1zM26 7h1v1h-1zM10 9h1v1h-1zM13 9h1v1h-1zM7 10h1v1h-1zM9 10h1v1h-1zM13 10h1v1h-1zM18 10h1v1h-1zM21 10h1v1h-1zM26 10h1v1h-1zM9 13h1v1h-1zM10 13h1v1h-1zM10 18h1v1h-1zM21 18h1v1h-1zM10 21h1v1h-1zM18 21h1v1h-1zM2 24h1v1h-1zM7 26h1v1h-1zM10 26h1v1h-1z"/><path fill="#33b5df" d="M7 3h1v1h-1zM26 3h1v1h-1zM3 7h1v1h-1zM18 7h1v1h-1zM22 7h1v1h-1zM23 7h1v1h-1zM19 10h1v1h-1zM29 10h1v1h-1zM30 10h1v1h-1zM18 13h1v1h-1zM22 13h1v1h-1zM26 13h1v1h-1zM7 18h1v1h-1zM13 18h1v1h-1zM10 19h1v1h-1zM24 19h1v1h-1zM24 21h1v1h-1zM7 22h1v1h-1zM13 22h1v1h-1zM29 22h1v1h-1zM30 22h1v1h-1zM7 23h1v1h-1zM24 23h1v1h-1zM29 23h1v1h-1zM30 23h1v1h-1zM19 24h1v1h-1zM21 24h1v1h-1zM23 24h1v1h-1zM3 26h1v1h-1zM13 26h1v1h-1zM10 29h1v1h-1zM22 29h1v1h-1zM23 29h1v1h-1zM10 30h1v1h-1zM22 30h1v1h-1zM23 30h1v1h-1z"/><path fill="#4dbcb5" d="M24 3h1v1h-1zM21 9h1v1h-1zM22 10h1v1h-1zM23 10h1v1h-1zM24 10h1v1h-1zM21 13h1v1h-1zM9 21h1v1h-1zM13 21h1v1h-1zM10 22h1v1h-1zM10 23h1v1h-1zM3 24h1v1h-1zM10 24h1v1h-1z"/><path fill="#26469e" d="M27 4h1v1h-1zM28 5h1v1h-1zM4 27h1v1h-1zM5 28h1v1h-1z"/><path fill="#3ebcd8" d="M16 7h1v1h-1zM21 7h1v1h-1zM24 7h1v1h-1zM24 15h1v1h-1zM7 16h1v1h-1zM24 16h1v1h-1zM26 16h1v1h-1zM24 20h1v1h-1zM7 21h1v1h-1zM22 21h1v1h-1zM26 21h1v1h-1zM21 22h1v1h-1zM24 22h1v1h-1zM7 24h1v1h-1zM15 24h1v1h-1zM16 24h1v1h-1zM20 24h1v1h-1zM22 24h1v1h-1zM26 24h1v1h-1zM29 24h1v1h-1zM30 24h1v1h-1zM16 26h1v1h-1zM21 26h1v1h-1zM24 26h1v1h-1zM24 29h1v1h-1zM24 30h1v1h-1z"/><path fill="#1e328c" d="M28 27h1v1h-1zM27 28h1v1h-1z"/></g><path filter="url(#bdb)" fill="none" stroke="#10204a" stroke-opacity="0.22" stroke-width="0.14" d="M0.02 0.02h0.96v0.96h-0.96zM1.02 1.02h0.96v0.96h-0.96zM2.02 2.02h0.96v0.96h-0.96zM3.02 3.02h0.96v0.96h-0.96zM4.02 4.02h0.96v0.96h-0.96zM5.02 5.02h0.96v0.96h-0.96zM6.02 6.02h0.96v0.96h-0.96zM7.02 7.02h0.96v0.96h-0.96zM8.02 8.02h0.96v0.96h-0.96zM9.02 9.02h0.96v0.96h-0.96zM10.02 10.02h0.96v0.96h-0.96zM11.02 11.02h0.96v0.96h-0.96zM12.02 12.02h0.96v0.96h-0.96zM13.02 13.02h0.96v0.96h-0.96zM14.02 14.02h0.96v0.96h-0.96zM15.02 15.02h0.96v0.96h-0.96zM16.02 16.02h0.96v0.96h-0.96zM17.02 17.02h0.96v0.96h-0.96zM18.02 18.02h0.96v0.96h-0.96zM19.02 19.02h0.96v0.96h-0.96zM20.02 20.02h0.96v0.96h-0.96zM21.02 21.02h0.96v0.96h-0.96zM22.02 22.02h0.96v0.96h-0.96zM23.02 23.02h0.96v0.96h-0.96zM24.02 24.02h0.96v0.96h-0.96zM25.02 25.02h0.96v0.96h-0.96zM26.02 26.02h0.96v0.96h-0.96zM27.02 27.02h0.96v0.96h-0.96zM28.02 28.02h0.96v0.96h-0.96zM29.02 29.02h0.96v0.96h-0.96z"/><path filter="url(#bdb)" fill="#f0e632" stroke="#f6f0a0" stroke-width="0.07" d="M0.09 0.09h0.82v0.82h-0.82zM1.09 1.09h0.82v0.82h-0.82zM2.09 2.09h0.82v0.82h-0.82zM3.09 3.09h0.82v0.82h-0.82zM4.09 4.09h0.82v0.82h-0.82zM5.09 5.09h0.82v0.82h-0.82zM6.09 6.09h0.82v0.82h-0.82zM7.09 7.09h0.82v0.82h-0.82zM8.09 8.09h0.82v0.82h-0.82zM9.09 9.09h0.82v0.82h-0.82zM10.09 10.09h0.82v0.82h-0.82zM11.09 11.09h0.82v0.82h-0.82zM12.09 12.09h0.82v0.82h-0.82zM13.09 13.09h0.82v0.82h-0.82zM14.09 14.09h0.82v0.82h-0.82zM15.09 15.09h0.82v0.82h-0.82zM16.09 16.09h0.82v0.82h-0.82zM17.09 17.09h0.82v0.82h-0.82zM18.09 18.09h0.82v0.82h-0.82zM19.09 19.09h0.82v0.82h-0.82zM20.09 20.09h0.82v0.82h-0.82zM21.09 21.09h0.82v0.82h-0.82zM22.09 22.09h0.82v0.82h-0.82zM23.09 23.09h0.82v0.82h-0.82zM24.09 24.09h0.82v0.82h-0.82zM25.09 25.09h0.82v0.82h-0.82zM26.09 26.09h0.82v0.82h-0.82zM27.09 27.09h0.82v0.82h-0.82zM28.09 28.09h0.82v0.82h-0.82zM29.09 29.09h0.82v0.82h-0.82z"/></svg><rect x="542.0" y="2.7" width="314.60" height="302.00" fill="none" stroke="#101830" stroke-width="1.2"/><svg x="100.3" y="419.7" width="316.60" height="296.90" viewBox="0 0 30 30" preserveAspectRatio="none"><defs><filter id="blc" x="-2" y="-2" width="34" height="34" filterUnits="userSpaceOnUse"><feGaussianBlur stdDeviation="0.1895 0.2021"/></filter><filter id="bdc" x="-2" y="-2" width="34" height="34" filterUnits="userSpaceOnUse"><feGaussianBlur stdDeviation="0.0853 0.0909"/></filter></defs><g filter="url(#blc)" shape-rendering="crispEdges"><path fill="#f0e632" d="M-1 -1h1v1h-1zM0 -1h1v1h-1zM-1 0h1v1h-1zM0 0h1v1h-1zM1 1h1v1h-1zM2 2h1v1h-1zM3 3h1v1h-1zM4 4h1v1h-1zM5 5h1v1h-1zM6 6h1v1h-1zM7 7h1v1h-1zM10 7h1v1h-1zM26 7h1v1h-1zM8 8h1v1h-1zM9 9h1v1h-1zM7 10h1v1h-1zM10 10h1v1h-1zM22 10h1v1h-1zM11 11h1v1h-1zM12 12h1v1h-1zM13 13h1v1h-1zM14 14h1v1h-1zM15 15h1v1h-1zM16 16h1v1h-1zM17 17h1v1h-1zM18 18h1v1h-1zM19 19h1v1h-1zM20 20h1v1h-1zM21 21h1v1h-1zM10 22h1v1h-1zM22 22h1v1h-1zM23 23h1v1h-1zM24 24h1v1h-1zM26 24h1v1h-1zM25 25h1v1h-1zM7 26h1v1h-1zM24 26h1v1h-1zM26 26h1v1h-1zM27 27h1v1h-1zM28 28h1v1h-1zM29 29h1v1h-1zM30 29h1v1h-1zM29 30h1v1h-1zM30 30h1v1h-1z"/><path fill="#4dbcb5" d="M1 -1h1v1h-1zM15 -1h1v1h-1zM16 -1h1v1h-1zM18 -1h1v1h-1zM21 -1h1v1h-1zM26 -1h1v1h-1zM1 0h1v1h-1zM15 0h1v1h-1zM16 0h1v1h-1zM18 0h1v1h-1zM21 0h1v1h-1zM26 0h1v1h-1zM-1 1h1v1h-1zM0 1h1v1h-1zM10 1h1v1h-1zM11 1h1v1h-1zM16 1h1v1h-1zM17 1h1v1h-1zM18 1h1v1h-1zM20 1h1v1h-1zM21 1h1v1h-1zM22 1h1v1h-1zM26 1h1v1h-1zM27 1h1v1h-1zM29 1h1v1h-1zM30 1h1v1h-1zM3 2h1v1h-1zM14 2h1v1h-1zM2 3h1v1h-1zM4 3h1v1h-1zM5 3h1v1h-1zM14 3h1v1h-1zM20 3h1v1h-1zM25 3h1v1h-1zM27 3h1v1h-1zM29 3h1v1h-1zM30 3h1v1h-1zM3 4h1v1h-1zM5 4h1v1h-1zM10 4h1v1h-1zM14 4h1v1h-1zM16 4h1v1h-1zM18 4h1v1h-1zM19 4h1v1h-1zM20 4h1v1h-1zM22 4h1v1h-1zM3 5h1v1h-1zM4 5h1v1h-1zM9 5h1v1h-1zM15 5h1v1h-1zM19 5h1v1h-1zM22 5h1v1h-1zM27 5h1v1h-1zM29 5h1v1h-1zM30 5h1v1h-1zM23 7h1v1h-1zM10 8h1v1h-1zM20 8h1v1h-1zM26 8h1v1h-1zM5 9h1v1h-1zM15 9h1v1h-1zM20 9h1v1h-1zM29 9h1v1h-1zM30 9h1v1h-1zM1 10h1v1h-1zM4 10h1v1h-1zM8 10h1v1h-1zM1 11h1v1h-1zM14 11h1v1h-1zM19 11h1v1h-1zM25 11h1v1h-1zM14 12h1v1h-1zM23 12h1v1h-1zM19 13h1v1h-1zM25 13h1v1h-1zM27 13h1v1h-1zM29 13h1v1h-1zM30 13h1v1h-1zM2 14h1v1h-1zM3 14h1v1h-1zM4 14h1v1h-1zM11 14h1v1h-1zM12 14h1v1h-1zM16 14h1v1h-1zM17 14h1v1h-1zM18 14h1v1h-1zM19 14h1v1h-1zM21 14h1v1h-1zM24 14h1v1h-1zM25 14h1v1h-1zM26 14h1v1h-1zM27 14h1v1h-1zM29 14h1v1h-1zM30 14h1v1h-1zM-1 15h1v1h-1zM0 15h1v1h-1zM5 15h1v1h-1zM9 15h1v1h-1zM16 15h1v1h-1zM17 15h1v1h-1zM18 15h1v1h-1zM19 15h1v1h-1zM20 15h1v1h-1zM27 15h1v1h-1zM29 15h1v1h-1zM30 15h1v1h-1zM-1 16h1v1h-1zM0 16h1v1h-1zM1 16h1v1h-1zM4 16h1v1h-1zM14 16h1v1h-1zM15 16h1v1h-1zM29 16h1v1h-1zM30 16h1v1h-1zM1 17h1v1h-1zM14 17h1v1h-1zM15 17h1v1h-1zM-1 18h1v1h-1zM0 18h1v1h-1zM1 18h1v1h-1zM4 18h1v1h-1zM14 18h1v1h-1zM15 18h1v1h-1zM4 19h1v1h-1zM5 19h1v1h-1zM11 19h1v1h-1zM13 19h1v1h-1zM14 19h1v1h-1zM15 19h1v1h-1zM23 19h1v1h-1zM1 20h1v1h-1zM3 20h1v1h-1zM4 20h1v1h-1zM8 20h1v1h-1zM9 20h1v1h-1zM15 20h1v1h-1zM23 20h1v1h-1zM25 20h1v1h-1zM-1 21h1v1h-1zM0 21h1v1h-1zM1 21h1v1h-1zM14 21h1v1h-1zM23 21h1v1h-1zM1 22h1v1h-1zM4 22h1v1h-1zM5 22h1v1h-1zM7 23h1v1h-1zM12 23h1v1h-1zM19 23h1v1h-1zM20 23h1v1h-1zM21 23h1v1h-1zM27 23h1v1h-1zM29 23h1v1h-1zM30 23h1v1h-1zM14 24h1v1h-1zM3 25h1v1h-1zM11 25h1v1h-1zM13 25h1v1h-1zM14 25h1v1h-1zM20 25h1v1h-1zM-1 26h1v1h-1zM0 26h1v1h-1zM1 26h1v1h-1zM8 26h1v1h-1zM14 26h1v1h-1zM1 27h1v1h-1zM3 27h1v1h-1zM5 27h1v1h-1zM13 27h1v1h-1zM14 27h1v1h-1zM15 27h1v1h-1zM23 27h1v1h-1zM1 29h1v1h-1zM3 29h1v1h-1zM5 29h1v1h-1zM9 29h1v1h-1zM13 29h1v1h-1zM14 29h1v1h-1zM15 29h1v1h-1zM16 29h1v1h-1zM23 29h1v1h-1zM1 30h1v1h-1zM3 30h1v1h-1zM5 30h1v1h-1zM9 30h1v1h-1zM13 30h1v1h-1zM14 30h1v1h-1zM15 30h1v1h-1zM16 30h1v1h-1zM23 30h1v1h-1z"/><path fill="#9ac93f" d="M2 -1h1v1h-1zM2 0h1v1h-1zM-1 2h1v1h-1zM0 2h1v1h-1zM7 2h1v1h-1zM10 2h1v1h-1zM22 2h1v1h-1zM24 2h1v1h-1zM2 7h1v1h-1zM9 7h1v1h-1zM16 7h1v1h-1zM17 7h1v1h-1zM20 7h1v1h-1zM21 7h1v1h-1zM25 7h1v1h-1zM7 9h1v1h-1zM2 10h1v1h-1zM15 10h1v1h-1zM17 10h1v1h-1zM24 10h1v1h-1zM17 12h1v1h-1zM18 12h1v1h-1zM22 12h1v1h-1zM26 12h1v1h-1zM10 15h1v1h-1zM7 16h1v1h-1zM7 17h1v1h-1zM10 17h1v1h-1zM12 17h1v1h-1zM18 17h1v1h-1zM21 17h1v1h-1zM12 18h1v1h-1zM17 18h1v1h-1zM7 20h1v1h-1zM7 21h1v1h-1zM17 21h1v1h-1zM2 22h1v1h-1zM12 22h1v1h-1zM26 22h1v1h-1zM2 24h1v1h-1zM10 24h1v1h-1zM7 25h1v1h-1zM12 26h1v1h-1zM22 26h1v1h-1z"/><path fill="#31b4e0" d="M3 -1h1v1h-1zM8 -1h1v1h-1zM23 -1h1v1h-1zM3 0h1v1h-1zM8 0h1v1h-1zM23 0h1v1h-1zM3 1h1v1h-1zM4 2h1v1h-1zM8 2h1v1h-1zM-1 3h1v1h-1zM0 3h1v1h-1zM1 3h1v1h-1zM23 3h1v1h-1zM2 4h1v1h-1zM23 4h1v1h-1zM8 5h1v1h-1zM-1 8h1v1h-1zM0 8h1v1h-1zM2 8h1v1h-1zM5 8h1v1h-1zM9 8h1v1h-1zM19 8h1v1h-1zM23 8h1v1h-1zM25 8h1v1h-1zM8 9h1v1h-1zM15 11h1v1h-1zM15 13h1v1h-1zM15 14h1v1h-1zM23 14h1v1h-1zM11 15h1v1h-1zM13 15h1v1h-1zM14 15h1v1h-1zM23 15h1v1h-1zM25 15h1v1h-1zM8 19h1v1h-1zM-1 23h1v1h-1zM0 23h1v1h-1zM3 23h1v1h-1zM4 23h1v1h-1zM8 23h1v1h-1zM14 23h1v1h-1zM15 23h1v1h-1zM25 23h1v1h-1zM8 25h1v1h-1zM15 25h1v1h-1zM23 25h1v1h-1z"/><path fill="#2a8ad2" d="M4 -1h1v1h-1zM4 0h1v1h-1zM4 1h1v1h-1zM8 1h1v1h-1zM8 3h1v1h-1zM-1 4h1v1h-1zM0 4h1v1h-1zM1 4h1v1h-1zM1 8h1v1h-1zM3 8h1v1h-1zM21 8h1v1h-1zM8 21h1v1h-1z"/><path fill="#3dbbd9" d="M5 -1h1v1h-1zM9 -1h1v1h-1zM13 -1h1v1h-1zM14 -1h1v1h-1zM19 -1h1v1h-1zM5 0h1v1h-1zM9 0h1v1h-1zM13 0h1v1h-1zM14 0h1v1h-1zM19 0h1v1h-1zM5 1h1v1h-1zM9 1h1v1h-1zM12 1h1v1h-1zM13 1h1v1h-1zM14 1h1v1h-1zM19 1h1v1h-1zM25 1h1v1h-1zM23 2h1v1h-1zM9 3h1v1h-1zM15 3h1v1h-1zM9 4h1v1h-1zM13 4h1v1h-1zM24 4h1v1h-1zM25 4h1v1h-1zM26 4h1v1h-1zM27 4h1v1h-1zM29 4h1v1h-1zM30 4h1v1h-1zM-1 5h1v1h-1zM0 5h1v1h-1zM1 5h1v1h-1zM23 5h1v1h-1zM11 8h1v1h-1zM12 8h1v1h-1zM16 8h1v1h-1zM17 8h1v1h-1zM18 8h1v1h-1zM22 8h1v1h-1zM24 8h1v1h-1zM27 8h1v1h-1zM29 8h1v1h-1zM30 8h1v1h-1zM-1 9h1v1h-1zM0 9h1v1h-1zM1 9h1v1h-1zM3 9h1v1h-1zM4 9h1v1h-1zM23 9h1v1h-1zM23 10h1v1h-1zM8 11h1v1h-1zM23 11h1v1h-1zM26 11h1v1h-1zM1 12h1v1h-1zM8 12h1v1h-1zM-1 13h1v1h-1zM0 13h1v1h-1zM1 13h1v1h-1zM4 13h1v1h-1zM14 13h1v1h-1zM20 13h1v1h-1zM23 13h1v1h-1zM-1 14h1v1h-1zM0 14h1v1h-1zM1 14h1v1h-1zM13 14h1v1h-1zM20 14h1v1h-1zM3 15h1v1h-1zM8 16h1v1h-1zM23 16h1v1h-1zM8 17h1v1h-1zM8 18h1v1h-1zM-1 19h1v1h-1zM0 19h1v1h-1zM1 19h1v1h-1zM13 20h1v1h-1zM14 20h1v1h-1zM8 22h1v1h-1zM2 23h1v1h-1zM5 23h1v1h-1zM9 23h1v1h-1zM10 23h1v1h-1zM11 23h1v1h-1zM13 23h1v1h-1zM16 23h1v1h-1zM24 23h1v1h-1zM26 23h1v1h-1zM4 24h1v1h-1zM8 24h1v1h-1zM23 24h1v1h-1zM1 25h1v1h-1zM4 25h1v1h-1zM4 26h1v1h-1zM11 26h1v1h-1zM23 26h1v1h-1zM4 27h1v1h-1zM8 27h1v1h-1zM4 29h1v1h-1zM8 29h1v1h-1zM4 30h1v1h-1zM8 30h1v1h-1z"/><path fill="#2a59af" d="M6 -1h1v1h-1zM6 0h1v1h-1zM6 1h1v1h-1zM-1 6h1v1h-1zM0 6h1v1h-1zM1 6h1v1h-1zM9 6h1v1h-1zM14 6h1v1h-1zM19 6h1v1h-1zM6 9h1v1h-1zM6 14h1v1h-1zM6 19h1v1h-1z"/><path fill="#79c165" d="M7 -1h1v1h-1zM22 -1h1v1h-1zM24 -1h1v1h-1zM7 0h1v1h-1zM22 0h1v1h-1zM24 0h1v1h-1zM2 1h1v1h-1zM1 2h1v1h-1zM11 2h1v1h-1zM12 2h1v1h-1zM13 2h1v1h-1zM15 2h1v1h-1zM19 2h1v1h-1zM20 2h1v1h-1zM21 2h1v1h-1zM25 2h1v1h-1zM26 2h1v1h-1zM27 2h1v1h-1zM29 2h1v1h-1zM30 2h1v1h-1zM7 3h1v1h-1zM16 3h1v1h-1zM17 3h1v1h-1zM7 5h1v1h-1zM11 5h1v1h-1zM12 5h1v1h-1zM13 5h1v1h-1zM16 5h1v1h-1zM17 5h1v1h-1zM-1 7h1v1h-1zM0 7h1v1h-1zM3 7h1v1h-1zM5 7h1v1h-1zM14 7h1v1h-1zM29 7h1v1h-1zM30 7h1v1h-1zM10 9h1v1h-1zM11 9h1v1h-1zM12 9h1v1h-1zM16 9h1v1h-1zM17 9h1v1h-1zM18 9h1v1h-1zM24 9h1v1h-1zM26 9h1v1h-1zM9 10h1v1h-1zM11 10h1v1h-1zM13 10h1v1h-1zM19 10h1v1h-1zM20 10h1v1h-1zM21 10h1v1h-1zM27 10h1v1h-1zM29 10h1v1h-1zM30 10h1v1h-1zM2 11h1v1h-1zM5 11h1v1h-1zM9 11h1v1h-1zM10 11h1v1h-1zM12 11h1v1h-1zM2 12h1v1h-1zM5 12h1v1h-1zM9 12h1v1h-1zM11 12h1v1h-1zM13 12h1v1h-1zM16 12h1v1h-1zM20 12h1v1h-1zM25 12h1v1h-1zM27 12h1v1h-1zM29 12h1v1h-1zM30 12h1v1h-1zM2 13h1v1h-1zM5 13h1v1h-1zM10 13h1v1h-1zM12 13h1v1h-1zM22 13h1v1h-1zM7 14h1v1h-1zM2 15h1v1h-1zM22 15h1v1h-1zM24 15h1v1h-1zM26 15h1v1h-1zM3 16h1v1h-1zM5 16h1v1h-1zM9 16h1v1h-1zM12 16h1v1h-1zM17 16h1v1h-1zM18 16h1v1h-1zM19 16h1v1h-1zM20 16h1v1h-1zM24 16h1v1h-1zM25 16h1v1h-1zM26 16h1v1h-1zM27 16h1v1h-1zM3 17h1v1h-1zM5 17h1v1h-1zM9 17h1v1h-1zM16 17h1v1h-1zM19 17h1v1h-1zM20 17h1v1h-1zM24 17h1v1h-1zM27 17h1v1h-1zM29 17h1v1h-1zM30 17h1v1h-1zM9 18h1v1h-1zM16 18h1v1h-1zM19 18h1v1h-1zM24 18h1v1h-1zM25 18h1v1h-1zM27 18h1v1h-1zM29 18h1v1h-1zM30 18h1v1h-1zM2 19h1v1h-1zM10 19h1v1h-1zM16 19h1v1h-1zM17 19h1v1h-1zM18 19h1v1h-1zM21 19h1v1h-1zM22 19h1v1h-1zM25 19h1v1h-1zM27 19h1v1h-1zM29 19h1v1h-1zM30 19h1v1h-1zM2 20h1v1h-1zM10 20h1v1h-1zM12 20h1v1h-1zM16 20h1v1h-1zM17 20h1v1h-1zM22 20h1v1h-1zM2 21h1v1h-1zM10 21h1v1h-1zM19 21h1v1h-1zM22 21h1v1h-1zM24 21h1v1h-1zM25 21h1v1h-1zM26 21h1v1h-1zM27 21h1v1h-1zM29 21h1v1h-1zM30 21h1v1h-1zM-1 22h1v1h-1zM0 22h1v1h-1zM13 22h1v1h-1zM15 22h1v1h-1zM19 22h1v1h-1zM20 22h1v1h-1zM21 22h1v1h-1zM29 22h1v1h-1zM30 22h1v1h-1zM-1 24h1v1h-1zM0 24h1v1h-1zM9 24h1v1h-1zM15 24h1v1h-1zM16 24h1v1h-1zM17 24h1v1h-1zM18 24h1v1h-1zM21 24h1v1h-1zM25 24h1v1h-1zM27 24h1v1h-1zM29 24h1v1h-1zM30 24h1v1h-1zM2 25h1v1h-1zM12 25h1v1h-1zM16 25h1v1h-1zM18 25h1v1h-1zM19 25h1v1h-1zM21 25h1v1h-1zM24 25h1v1h-1zM26 25h1v1h-1zM29 25h1v1h-1zM30 25h1v1h-1zM2 26h1v1h-1zM9 26h1v1h-1zM15 26h1v1h-1zM16 26h1v1h-1zM21 26h1v1h-1zM25 26h1v1h-1zM27 26h1v1h-1zM29 26h1v1h-1zM30 26h1v1h-1zM2 27h1v1h-1zM10 27h1v1h-1zM12 27h1v1h-1zM16 27h1v1h-1zM17 27h1v1h-1zM18 27h1v1h-1zM19 27h1v1h-1zM21 27h1v1h-1zM24 27h1v1h-1zM26 27h1v1h-1zM29 27h1v1h-1zM30 27h1v1h-1zM2 29h1v1h-1zM7 29h1v1h-1zM10 29h1v1h-1zM12 29h1v1h-1zM17 29h1v1h-1zM18 29h1v1h-1zM19 29h1v1h-1zM21 29h1v1h-1zM22 29h1v1h-1zM24 29h1v1h-1zM25 29h1v1h-1zM26 29h1v1h-1zM27 29h1v1h-1zM2 30h1v1h-1zM7 30h1v1h-1zM10 30h1v1h-1zM12 30h1v1h-1zM17 30h1v1h-1zM18 30h1v1h-1zM19 30h1v1h-1zM21 30h1v1h-1zM22 30h1v1h-1zM24 30h1v1h-1zM25 30h1v1h-1zM26 30h1v1h-1zM27 30h1v1h-1z"/><path fill="#5dbb90" d="M10 -1h1v1h-1zM11 -1h1v1h-1zM12 -1h1v1h-1zM17 -1h1v1h-1zM20 -1h1v1h-1zM25 -1h1v1h-1zM27 -1h1v1h-1zM10 0h1v1h-1zM11 0h1v1h-1zM12 0h1v1h-1zM17 0h1v1h-1zM20 0h1v1h-1zM25 0h1v1h-1zM27 0h1v1h-1zM24 1h1v1h-1zM5 2h1v1h-1zM9 2h1v1h-1zM10 3h1v1h-1zM11 3h1v1h-1zM12 3h1v1h-1zM13 3h1v1h-1zM18 3h1v1h-1zM19 3h1v1h-1zM21 3h1v1h-1zM22 3h1v1h-1zM24 3h1v1h-1zM26 3h1v1h-1zM7 4h1v1h-1zM11 4h1v1h-1zM12 4h1v1h-1zM17 4h1v1h-1zM21 4h1v1h-1zM2 5h1v1h-1zM10 5h1v1h-1zM14 5h1v1h-1zM18 5h1v1h-1zM20 5h1v1h-1zM21 5h1v1h-1zM24 5h1v1h-1zM25 5h1v1h-1zM26 5h1v1h-1zM4 7h1v1h-1zM8 7h1v1h-1zM7 8h1v1h-1zM2 9h1v1h-1zM13 9h1v1h-1zM14 9h1v1h-1zM19 9h1v1h-1zM21 9h1v1h-1zM22 9h1v1h-1zM25 9h1v1h-1zM27 9h1v1h-1zM-1 10h1v1h-1zM0 10h1v1h-1zM3 10h1v1h-1zM5 10h1v1h-1zM14 10h1v1h-1zM-1 11h1v1h-1zM0 11h1v1h-1zM3 11h1v1h-1zM4 11h1v1h-1zM13 11h1v1h-1zM16 11h1v1h-1zM17 11h1v1h-1zM18 11h1v1h-1zM20 11h1v1h-1zM21 11h1v1h-1zM22 11h1v1h-1zM24 11h1v1h-1zM27 11h1v1h-1zM29 11h1v1h-1zM30 11h1v1h-1zM-1 12h1v1h-1zM0 12h1v1h-1zM3 12h1v1h-1zM4 12h1v1h-1zM15 12h1v1h-1zM19 12h1v1h-1zM3 13h1v1h-1zM9 13h1v1h-1zM11 13h1v1h-1zM16 13h1v1h-1zM17 13h1v1h-1zM18 13h1v1h-1zM21 13h1v1h-1zM24 13h1v1h-1zM26 13h1v1h-1zM5 14h1v1h-1zM9 14h1v1h-1zM10 14h1v1h-1zM22 14h1v1h-1zM12 15h1v1h-1zM21 15h1v1h-1zM11 16h1v1h-1zM13 16h1v1h-1zM-1 17h1v1h-1zM0 17h1v1h-1zM4 17h1v1h-1zM11 17h1v1h-1zM13 17h1v1h-1zM23 17h1v1h-1zM3 18h1v1h-1zM5 18h1v1h-1zM11 18h1v1h-1zM13 18h1v1h-1zM20 18h1v1h-1zM23 18h1v1h-1zM3 19h1v1h-1zM9 19h1v1h-1zM12 19h1v1h-1zM20 19h1v1h-1zM-1 20h1v1h-1zM0 20h1v1h-1zM5 20h1v1h-1zM11 20h1v1h-1zM18 20h1v1h-1zM19 20h1v1h-1zM21 20h1v1h-1zM24 20h1v1h-1zM26 20h1v1h-1zM27 20h1v1h-1zM29 20h1v1h-1zM30 20h1v1h-1zM3 21h1v1h-1zM4 21h1v1h-1zM5 21h1v1h-1zM9 21h1v1h-1zM11 21h1v1h-1zM13 21h1v1h-1zM15 21h1v1h-1zM20 21h1v1h-1zM3 22h1v1h-1zM9 22h1v1h-1zM11 22h1v1h-1zM14 22h1v1h-1zM23 22h1v1h-1zM27 22h1v1h-1zM17 23h1v1h-1zM18 23h1v1h-1zM22 23h1v1h-1zM1 24h1v1h-1zM3 24h1v1h-1zM5 24h1v1h-1zM11 24h1v1h-1zM13 24h1v1h-1zM20 24h1v1h-1zM-1 25h1v1h-1zM0 25h1v1h-1zM5 25h1v1h-1zM9 25h1v1h-1zM27 25h1v1h-1zM3 26h1v1h-1zM5 26h1v1h-1zM13 26h1v1h-1zM20 26h1v1h-1zM-1 27h1v1h-1zM0 27h1v1h-1zM9 27h1v1h-1zM11 27h1v1h-1zM20 27h1v1h-1zM22 27h1v1h-1zM25 27h1v1h-1zM11 29h1v1h-1zM20 29h1v1h-1zM11 30h1v1h-1zM20 30h1v1h-1z"/><path fill="#26469e" d="M28 -1h1v1h-1zM28 0h1v1h-1zM-1 28h1v1h-1zM0 28h1v1h-1z"/><path fill="#88c44e" d="M29 -1h1v1h-1zM30 -1h1v1h-1zM29 0h1v1h-1zM30 0h1v1h-1zM7 1h1v1h-1zM16 2h1v1h-1zM17 2h1v1h-1zM18 2h1v1h-1zM1 7h1v1h-1zM11 7h1v1h-1zM12 7h1v1h-1zM13 7h1v1h-1zM15 7h1v1h-1zM19 7h1v1h-1zM27 7h1v1h-1zM12 10h1v1h-1zM16 10h1v1h-1zM18 10h1v1h-1zM25 10h1v1h-1zM7 11h1v1h-1zM7 12h1v1h-1zM10 12h1v1h-1zM21 12h1v1h-1zM24 12h1v1h-1zM7 13h1v1h-1zM7 15h1v1h-1zM2 16h1v1h-1zM10 16h1v1h-1zM21 16h1v1h-1zM22 16h1v1h-1zM2 17h1v1h-1zM22 17h1v1h-1zM25 17h1v1h-1zM26 17h1v1h-1zM2 18h1v1h-1zM10 18h1v1h-1zM21 18h1v1h-1zM22 18h1v1h-1zM26 18h1v1h-1zM7 19h1v1h-1zM24 19h1v1h-1zM12 21h1v1h-1zM16 21h1v1h-1zM18 21h1v1h-1zM16 22h1v1h-1zM17 22h1v1h-1zM18 22h1v1h-1zM24 22h1v1h-1zM25 22h1v1h-1zM12 24h1v1h-1zM19 24h1v1h-1zM22 24h1v1h-1zM10 25h1v1h-1zM17 25h1v1h-1zM22 25h1v1h-1zM17 26h1v1h-1zM18 26h1v1h-1zM7 27h1v1h-1zM-1 29h1v1h-1zM0 29h1v1h-1zM-1 30h1v1h-1zM0 30h1v1h-1z"/><path fill="#29a3e0" d="M15 1h1v1h-1zM23 1h1v1h-1zM15 8h1v1h-1zM1 15h1v1h-1zM8 15h1v1h-1zM1 23h1v1h-1z"/><path fill="#284ea4" d="M28 1h1v1h-1zM28 2h1v1h-1zM28 3h1v1h-1zM28 4h1v1h-1zM28 5h1v1h-1zM28 6h1v1h-1zM28 7h1v1h-1zM28 8h1v1h-1zM28 9h1v1h-1zM28 10h1v1h-1zM28 11h1v1h-1zM28 12h1v1h-1zM28 13h1v1h-1zM28 15h1v1h-1zM28 16h1v1h-1zM28 17h1v1h-1zM28 18h1v1h-1zM28 19h1v1h-1zM28 20h1v1h-1zM28 21h1v1h-1zM28 22h1v1h-1zM28 23h1v1h-1zM28 24h1v1h-1zM28 25h1v1h-1zM28 26h1v1h-1zM28 27h1v1h-1zM1 28h1v1h-1zM2 28h1v1h-1zM3 28h1v1h-1zM4 28h1v1h-1zM5 28h1v1h-1zM6 28h1v1h-1zM7 28h1v1h-1zM8 28h1v1h-1zM9 28h1v1h-1zM10 28h1v1h-1zM11 28h1v1h-1zM12 28h1v1h-1zM13 28h1v1h-1zM15 28h1v1h-1zM16 28h1v1h-1zM17 28h1v1h-1zM18 28h1v1h-1zM19 28h1v1h-1zM20 28h1v1h-1zM21 28h1v1h-1zM22 28h1v1h-1zM23 28h1v1h-1zM24 28h1v1h-1zM25 28h1v1h-1zM26 28h1v1h-1zM27 28h1v1h-1zM29 28h1v1h-1zM30 28h1v1h-1zM28 29h1v1h-1zM28 30h1v1h-1z"/><path fill="#2b64ba" d="M6 2h1v1h-1zM6 3h1v1h-1zM6 4h1v1h-1zM6 5h1v1h-1zM2 6h1v1h-1zM3 6h1v1h-1zM4 6h1v1h-1zM5 6h1v1h-1zM7 6h1v1h-1zM8 6h1v1h-1zM10 6h1v1h-1zM11 6h1v1h-1zM12 6h1v1h-1zM13 6h1v1h-1zM15 6h1v1h-1zM16 6h1v1h-1zM17 6h1v1h-1zM18 6h1v1h-1zM20 6h1v1h-1zM21 6h1v1h-1zM22 6h1v1h-1zM24 6h1v1h-1zM25 6h1v1h-1zM26 6h1v1h-1zM27 6h1v1h-1zM6 7h1v1h-1zM6 8h1v1h-1zM6 10h1v1h-1zM6 11h1v1h-1zM6 12h1v1h-1zM6 13h1v1h-1zM6 15h1v1h-1zM6 16h1v1h-1zM6 17h1v1h-1zM6 18h1v1h-1zM6 20h1v1h-1zM6 21h1v1h-1zM6 22h1v1h-1zM6 24h1v1h-1zM6 25h1v1h-1zM6 26h1v1h-1zM6 27h1v1h-1z"/><path fill="#2a77c6" d="M8 4h1v1h-1zM15 4h1v1h-1zM23 6h1v1h-1zM29 6h1v1h-1zM30 6h1v1h-1zM4 8h1v1h-1zM13 8h1v1h-1zM14 8h1v1h-1zM8 13h1v1h-1zM8 14h1v1h-1zM4 15h1v1h-1zM6 23h1v1h-1zM6 29h1v1h-1zM6 30h1v1h-1z"/><path fill="#c5d738" d="M18 7h1v1h-1zM22 7h1v1h-1zM24 7h1v1h-1zM26 10h1v1h-1zM7 18h1v1h-1zM26 19h1v1h-1zM7 22h1v1h-1zM7 24h1v1h-1zM10 26h1v1h-1zM19 26h1v1h-1z"/><path fill="#243e98" d="M28 14h1v1h-1zM14 28h1v1h-1z"/></g><path filter="url(#bdc)" fill="none" stroke="#2a9a40" stroke-opacity="0.22" stroke-width="0.14" d="M0.02 0.02h0.96v0.96h-0.96zM1.02 1.02h0.96v0.96h-0.96zM2.02 2.02h0.96v0.96h-0.96zM3.02 3.02h0.96v0.96h-0.96zM4.02 4.02h0.96v0.96h-0.96zM5.02 5.02h0.96v0.96h-0.96zM6.02 6.02h0.96v0.96h-0.96zM7.02 7.02h0.96v0.96h-0.96zM8.02 8.02h0.96v0.96h-0.96zM9.02 9.02h0.96v0.96h-0.96zM10.02 10.02h0.96v0.96h-0.96zM11.02 11.02h0.96v0.96h-0.96zM12.02 12.02h0.96v0.96h-0.96zM13.02 13.02h0.96v0.96h-0.96zM14.02 14.02h0.96v0.96h-0.96zM15.02 15.02h0.96v0.96h-0.96zM16.02 16.02h0.96v0.96h-0.96zM17.02 17.02h0.96v0.96h-0.96zM18.02 18.02h0.96v0.96h-0.96zM19.02 19.02h0.96v0.96h-0.96zM20.02 20.02h0.96v0.96h-0.96zM21.02 21.02h0.96v0.96h-0.96zM22.02 22.02h0.96v0.96h-0.96zM23.02 23.02h0.96v0.96h-0.96zM24.02 24.02h0.96v0.96h-0.96zM25.02 25.02h0.96v0.96h-0.96zM26.02 26.02h0.96v0.96h-0.96zM27.02 27.02h0.96v0.96h-0.96zM28.02 28.02h0.96v0.96h-0.96zM29.02 29.02h0.96v0.96h-0.96z"/><path filter="url(#bdc)" fill="#f0e632" stroke="#f6f0a0" stroke-width="0.07" d="M0.09 0.09h0.82v0.82h-0.82zM1.09 1.09h0.82v0.82h-0.82zM2.09 2.09h0.82v0.82h-0.82zM3.09 3.09h0.82v0.82h-0.82zM4.09 4.09h0.82v0.82h-0.82zM5.09 5.09h0.82v0.82h-0.82zM6.09 6.09h0.82v0.82h-0.82zM7.09 7.09h0.82v0.82h-0.82zM8.09 8.09h0.82v0.82h-0.82zM9.09 9.09h0.82v0.82h-0.82zM10.09 10.09h0.82v0.82h-0.82zM11.09 11.09h0.82v0.82h-0.82zM12.09 12.09h0.82v0.82h-0.82zM13.09 13.09h0.82v0.82h-0.82zM14.09 14.09h0.82v0.82h-0.82zM15.09 15.09h0.82v0.82h-0.82zM16.09 16.09h0.82v0.82h-0.82zM17.09 17.09h0.82v0.82h-0.82zM18.09 18.09h0.82v0.82h-0.82zM19.09 19.09h0.82v0.82h-0.82zM20.09 20.09h0.82v0.82h-0.82zM21.09 21.09h0.82v0.82h-0.82zM22.09 22.09h0.82v0.82h-0.82zM23.09 23.09h0.82v0.82h-0.82zM24.09 24.09h0.82v0.82h-0.82zM25.09 25.09h0.82v0.82h-0.82zM26.09 26.09h0.82v0.82h-0.82zM27.09 27.09h0.82v0.82h-0.82zM28.09 28.09h0.82v0.82h-0.82zM29.09 29.09h0.82v0.82h-0.82z"/></svg><rect x="100.3" y="419.7" width="316.60" height="296.90" fill="none" stroke="#101830" stroke-width="1.2"/><svg x="538.3" y="424.2" width="319.30" height="285.00" viewBox="0 0 30 30" preserveAspectRatio="none"><defs><filter id="bld" x="-2" y="-2" width="34" height="34" filterUnits="userSpaceOnUse"><feGaussianBlur stdDeviation="0.1879 0.2105"/></filter><filter id="bdd" x="-2" y="-2" width="34" height="34" filterUnits="userSpaceOnUse"><feGaussianBlur stdDeviation="0.0846 0.0947"/></filter></defs><g filter="url(#bld)" shape-rendering="crispEdges"><path fill="#f0e632" d="M-1 -1h1v1h-1zM0 -1h1v1h-1zM-1 0h1v1h-1zM0 0h1v1h-1zM1 1h1v1h-1zM2 2h1v1h-1zM3 3h1v1h-1zM4 4h1v1h-1zM5 5h1v1h-1zM6 6h1v1h-1zM7 7h1v1h-1zM8 8h1v1h-1zM9 9h1v1h-1zM10 10h1v1h-1zM11 11h1v1h-1zM12 12h1v1h-1zM13 13h1v1h-1zM14 14h1v1h-1zM15 15h1v1h-1zM16 16h1v1h-1zM17 17h1v1h-1zM18 18h1v1h-1zM19 19h1v1h-1zM20 20h1v1h-1zM21 21h1v1h-1zM22 22h1v1h-1zM23 23h1v1h-1zM24 24h1v1h-1zM25 25h1v1h-1zM26 26h1v1h-1zM27 27h1v1h-1zM28 28h1v1h-1zM29 29h1v1h-1zM30 29h1v1h-1zM29 30h1v1h-1zM30 30h1v1h-1z"/><path fill="#2b64ba" d="M1 -1h1v1h-1zM4 -1h1v1h-1zM5 -1h1v1h-1zM6 -1h1v1h-1zM18 -1h1v1h-1zM28 -1h1v1h-1zM1 0h1v1h-1zM4 0h1v1h-1zM5 0h1v1h-1zM6 0h1v1h-1zM18 0h1v1h-1zM28 0h1v1h-1zM-1 1h1v1h-1zM0 1h1v1h-1zM4 1h1v1h-1zM5 1h1v1h-1zM6 1h1v1h-1zM13 1h1v1h-1zM16 1h1v1h-1zM23 1h1v1h-1zM4 2h1v1h-1zM5 2h1v1h-1zM6 2h1v1h-1zM18 2h1v1h-1zM21 2h1v1h-1zM28 2h1v1h-1zM4 3h1v1h-1zM5 3h1v1h-1zM6 3h1v1h-1zM18 3h1v1h-1zM21 3h1v1h-1zM28 3h1v1h-1zM-1 4h1v1h-1zM0 4h1v1h-1zM1 4h1v1h-1zM2 4h1v1h-1zM3 4h1v1h-1zM5 4h1v1h-1zM14 4h1v1h-1zM16 4h1v1h-1zM19 4h1v1h-1zM22 4h1v1h-1zM27 4h1v1h-1zM29 4h1v1h-1zM30 4h1v1h-1zM-1 5h1v1h-1zM0 5h1v1h-1zM1 5h1v1h-1zM2 5h1v1h-1zM3 5h1v1h-1zM4 5h1v1h-1zM13 5h1v1h-1zM14 5h1v1h-1zM16 5h1v1h-1zM19 5h1v1h-1zM21 5h1v1h-1zM23 5h1v1h-1zM27 5h1v1h-1zM-1 6h1v1h-1zM0 6h1v1h-1zM1 6h1v1h-1zM2 6h1v1h-1zM3 6h1v1h-1zM11 6h1v1h-1zM14 6h1v1h-1zM16 6h1v1h-1zM21 6h1v1h-1zM23 6h1v1h-1zM27 6h1v1h-1zM18 9h1v1h-1zM18 10h1v1h-1zM21 10h1v1h-1zM28 10h1v1h-1zM6 11h1v1h-1zM16 11h1v1h-1zM18 11h1v1h-1zM21 11h1v1h-1zM28 11h1v1h-1zM18 12h1v1h-1zM21 12h1v1h-1zM28 12h1v1h-1zM1 13h1v1h-1zM5 13h1v1h-1zM14 13h1v1h-1zM22 13h1v1h-1zM27 13h1v1h-1zM4 14h1v1h-1zM5 14h1v1h-1zM6 14h1v1h-1zM13 14h1v1h-1zM18 14h1v1h-1zM21 14h1v1h-1zM28 14h1v1h-1zM18 15h1v1h-1zM1 16h1v1h-1zM4 16h1v1h-1zM5 16h1v1h-1zM6 16h1v1h-1zM11 16h1v1h-1zM18 17h1v1h-1zM-1 18h1v1h-1zM0 18h1v1h-1zM2 18h1v1h-1zM3 18h1v1h-1zM9 18h1v1h-1zM10 18h1v1h-1zM11 18h1v1h-1zM12 18h1v1h-1zM14 18h1v1h-1zM15 18h1v1h-1zM17 18h1v1h-1zM19 18h1v1h-1zM25 18h1v1h-1zM29 18h1v1h-1zM30 18h1v1h-1zM4 19h1v1h-1zM5 19h1v1h-1zM18 19h1v1h-1zM21 19h1v1h-1zM2 21h1v1h-1zM3 21h1v1h-1zM5 21h1v1h-1zM6 21h1v1h-1zM10 21h1v1h-1zM11 21h1v1h-1zM12 21h1v1h-1zM14 21h1v1h-1zM19 21h1v1h-1zM22 21h1v1h-1zM24 21h1v1h-1zM25 21h1v1h-1zM29 21h1v1h-1zM30 21h1v1h-1zM4 22h1v1h-1zM13 22h1v1h-1zM21 22h1v1h-1zM28 22h1v1h-1zM1 23h1v1h-1zM5 23h1v1h-1zM6 23h1v1h-1zM27 23h1v1h-1zM28 23h1v1h-1zM21 24h1v1h-1zM18 25h1v1h-1zM21 25h1v1h-1zM4 27h1v1h-1zM5 27h1v1h-1zM6 27h1v1h-1zM13 27h1v1h-1zM23 27h1v1h-1zM28 27h1v1h-1zM-1 28h1v1h-1zM0 28h1v1h-1zM2 28h1v1h-1zM3 28h1v1h-1zM10 28h1v1h-1zM11 28h1v1h-1zM12 28h1v1h-1zM14 28h1v1h-1zM22 28h1v1h-1zM23 28h1v1h-1zM27 28h1v1h-1zM29 28h1v1h-1zM30 28h1v1h-1zM4 29h1v1h-1zM18 29h1v1h-1zM21 29h1v1h-1zM28 29h1v1h-1zM4 30h1v1h-1zM18 30h1v1h-1zM21 30h1v1h-1zM28 30h1v1h-1z"/><path fill="#5cbb92" d="M2 -1h1v1h-1zM27 -1h1v1h-1zM2 0h1v1h-1zM27 0h1v1h-1zM-1 2h1v1h-1zM0 2h1v1h-1zM17 7h1v1h-1zM26 7h1v1h-1zM7 17h1v1h-1zM26 17h1v1h-1zM26 19h1v1h-1zM7 26h1v1h-1zM17 26h1v1h-1zM19 26h1v1h-1zM-1 27h1v1h-1zM0 27h1v1h-1z"/><path fill="#299cdc" d="M3 -1h1v1h-1zM9 -1h1v1h-1zM17 -1h1v1h-1zM19 -1h1v1h-1zM3 0h1v1h-1zM9 0h1v1h-1zM17 0h1v1h-1zM19 0h1v1h-1zM3 1h1v1h-1zM9 1h1v1h-1zM17 1h1v1h-1zM22 1h1v1h-1zM24 1h1v1h-1zM27 1h1v1h-1zM-1 3h1v1h-1zM0 3h1v1h-1zM1 3h1v1h-1zM15 3h1v1h-1zM20 3h1v1h-1zM22 3h1v1h-1zM7 4h1v1h-1zM17 4h1v1h-1zM4 7h1v1h-1zM14 7h1v1h-1zM15 7h1v1h-1zM21 7h1v1h-1zM23 7h1v1h-1zM-1 9h1v1h-1zM0 9h1v1h-1zM1 9h1v1h-1zM19 9h1v1h-1zM20 9h1v1h-1zM23 9h1v1h-1zM27 9h1v1h-1zM14 10h1v1h-1zM23 10h1v1h-1zM27 10h1v1h-1zM29 10h1v1h-1zM30 10h1v1h-1zM19 11h1v1h-1zM23 11h1v1h-1zM29 11h1v1h-1zM30 11h1v1h-1zM15 12h1v1h-1zM23 12h1v1h-1zM27 12h1v1h-1zM29 12h1v1h-1zM30 12h1v1h-1zM7 14h1v1h-1zM10 14h1v1h-1zM17 14h1v1h-1zM19 14h1v1h-1zM22 14h1v1h-1zM24 14h1v1h-1zM26 14h1v1h-1zM29 14h1v1h-1zM30 14h1v1h-1zM3 15h1v1h-1zM7 15h1v1h-1zM12 15h1v1h-1zM19 15h1v1h-1zM27 15h1v1h-1zM17 16h1v1h-1zM20 16h1v1h-1zM24 16h1v1h-1zM26 16h1v1h-1zM-1 17h1v1h-1zM0 17h1v1h-1zM1 17h1v1h-1zM4 17h1v1h-1zM14 17h1v1h-1zM16 17h1v1h-1zM19 17h1v1h-1zM23 17h1v1h-1zM27 17h1v1h-1zM29 17h1v1h-1zM30 17h1v1h-1zM-1 19h1v1h-1zM0 19h1v1h-1zM9 19h1v1h-1zM11 19h1v1h-1zM14 19h1v1h-1zM15 19h1v1h-1zM17 19h1v1h-1zM20 19h1v1h-1zM22 19h1v1h-1zM27 19h1v1h-1zM3 20h1v1h-1zM9 20h1v1h-1zM16 20h1v1h-1zM19 20h1v1h-1zM23 20h1v1h-1zM27 20h1v1h-1zM7 21h1v1h-1zM1 22h1v1h-1zM3 22h1v1h-1zM14 22h1v1h-1zM19 22h1v1h-1zM27 22h1v1h-1zM29 22h1v1h-1zM30 22h1v1h-1zM7 23h1v1h-1zM9 23h1v1h-1zM10 23h1v1h-1zM11 23h1v1h-1zM12 23h1v1h-1zM17 23h1v1h-1zM20 23h1v1h-1zM24 23h1v1h-1zM25 23h1v1h-1zM26 23h1v1h-1zM1 24h1v1h-1zM14 24h1v1h-1zM16 24h1v1h-1zM23 24h1v1h-1zM27 24h1v1h-1zM29 24h1v1h-1zM30 24h1v1h-1zM23 25h1v1h-1zM14 26h1v1h-1zM16 26h1v1h-1zM23 26h1v1h-1zM1 27h1v1h-1zM9 27h1v1h-1zM10 27h1v1h-1zM12 27h1v1h-1zM15 27h1v1h-1zM17 27h1v1h-1zM19 27h1v1h-1zM20 27h1v1h-1zM22 27h1v1h-1zM24 27h1v1h-1zM10 29h1v1h-1zM11 29h1v1h-1zM12 29h1v1h-1zM14 29h1v1h-1zM17 29h1v1h-1zM22 29h1v1h-1zM24 29h1v1h-1zM10 30h1v1h-1zM11 30h1v1h-1zM12 30h1v1h-1zM14 30h1v1h-1zM17 30h1v1h-1zM22 30h1v1h-1zM24 30h1v1h-1z"/><path fill="#28aee6" d="M7 -1h1v1h-1zM10 -1h1v1h-1zM11 -1h1v1h-1zM12 -1h1v1h-1zM15 -1h1v1h-1zM22 -1h1v1h-1zM24 -1h1v1h-1zM25 -1h1v1h-1zM26 -1h1v1h-1zM29 -1h1v1h-1zM30 -1h1v1h-1zM7 0h1v1h-1zM10 0h1v1h-1zM11 0h1v1h-1zM12 0h1v1h-1zM15 0h1v1h-1zM22 0h1v1h-1zM24 0h1v1h-1zM25 0h1v1h-1zM26 0h1v1h-1zM29 0h1v1h-1zM30 0h1v1h-1zM7 1h1v1h-1zM10 1h1v1h-1zM11 1h1v1h-1zM12 1h1v1h-1zM25 1h1v1h-1zM26 1h1v1h-1zM3 2h1v1h-1zM11 2h1v1h-1zM12 2h1v1h-1zM19 2h1v1h-1zM26 2h1v1h-1zM29 2h1v1h-1zM30 2h1v1h-1zM2 3h1v1h-1zM7 3h1v1h-1zM9 3h1v1h-1zM10 3h1v1h-1zM11 3h1v1h-1zM12 3h1v1h-1zM17 3h1v1h-1zM24 3h1v1h-1zM25 3h1v1h-1zM26 3h1v1h-1zM27 3h1v1h-1zM-1 7h1v1h-1zM0 7h1v1h-1zM1 7h1v1h-1zM3 7h1v1h-1zM19 7h1v1h-1zM22 7h1v1h-1zM24 7h1v1h-1zM27 7h1v1h-1zM29 7h1v1h-1zM30 7h1v1h-1zM3 9h1v1h-1zM11 9h1v1h-1zM12 9h1v1h-1zM17 9h1v1h-1zM22 9h1v1h-1zM26 9h1v1h-1zM-1 10h1v1h-1zM0 10h1v1h-1zM1 10h1v1h-1zM3 10h1v1h-1zM19 10h1v1h-1zM24 10h1v1h-1zM-1 11h1v1h-1zM0 11h1v1h-1zM1 11h1v1h-1zM2 11h1v1h-1zM3 11h1v1h-1zM9 11h1v1h-1zM12 11h1v1h-1zM17 11h1v1h-1zM20 11h1v1h-1zM22 11h1v1h-1zM24 11h1v1h-1zM26 11h1v1h-1zM-1 12h1v1h-1zM0 12h1v1h-1zM1 12h1v1h-1zM2 12h1v1h-1zM3 12h1v1h-1zM9 12h1v1h-1zM11 12h1v1h-1zM20 12h1v1h-1zM22 12h1v1h-1zM24 12h1v1h-1zM25 14h1v1h-1zM-1 15h1v1h-1zM0 15h1v1h-1zM17 15h1v1h-1zM20 15h1v1h-1zM22 15h1v1h-1zM24 15h1v1h-1zM25 15h1v1h-1zM26 15h1v1h-1zM25 16h1v1h-1zM3 17h1v1h-1zM9 17h1v1h-1zM11 17h1v1h-1zM15 17h1v1h-1zM20 17h1v1h-1zM24 17h1v1h-1zM2 19h1v1h-1zM7 19h1v1h-1zM10 19h1v1h-1zM24 19h1v1h-1zM25 19h1v1h-1zM11 20h1v1h-1zM12 20h1v1h-1zM15 20h1v1h-1zM17 20h1v1h-1zM22 20h1v1h-1zM24 20h1v1h-1zM25 20h1v1h-1zM-1 22h1v1h-1zM0 22h1v1h-1zM7 22h1v1h-1zM9 22h1v1h-1zM11 22h1v1h-1zM12 22h1v1h-1zM15 22h1v1h-1zM20 22h1v1h-1zM23 22h1v1h-1zM24 22h1v1h-1zM22 23h1v1h-1zM-1 24h1v1h-1zM0 24h1v1h-1zM3 24h1v1h-1zM7 24h1v1h-1zM10 24h1v1h-1zM11 24h1v1h-1zM12 24h1v1h-1zM15 24h1v1h-1zM17 24h1v1h-1zM19 24h1v1h-1zM20 24h1v1h-1zM22 24h1v1h-1zM25 24h1v1h-1zM26 24h1v1h-1zM-1 25h1v1h-1zM0 25h1v1h-1zM1 25h1v1h-1zM3 25h1v1h-1zM14 25h1v1h-1zM15 25h1v1h-1zM16 25h1v1h-1zM19 25h1v1h-1zM20 25h1v1h-1zM24 25h1v1h-1zM26 25h1v1h-1zM27 25h1v1h-1zM29 25h1v1h-1zM30 25h1v1h-1zM-1 26h1v1h-1zM0 26h1v1h-1zM1 26h1v1h-1zM2 26h1v1h-1zM3 26h1v1h-1zM9 26h1v1h-1zM11 26h1v1h-1zM15 26h1v1h-1zM24 26h1v1h-1zM25 26h1v1h-1zM27 26h1v1h-1zM29 26h1v1h-1zM30 26h1v1h-1zM3 27h1v1h-1zM7 27h1v1h-1zM25 27h1v1h-1zM26 27h1v1h-1zM-1 29h1v1h-1zM0 29h1v1h-1zM2 29h1v1h-1zM7 29h1v1h-1zM25 29h1v1h-1zM26 29h1v1h-1zM-1 30h1v1h-1zM0 30h1v1h-1zM2 30h1v1h-1zM7 30h1v1h-1zM25 30h1v1h-1zM26 30h1v1h-1z"/><path fill="#284ea4" d="M8 -1h1v1h-1zM8 0h1v1h-1zM8 1h1v1h-1zM18 1h1v1h-1zM8 2h1v1h-1zM8 3h1v1h-1zM13 4h1v1h-1zM18 4h1v1h-1zM21 4h1v1h-1zM28 4h1v1h-1zM6 5h1v1h-1zM8 5h1v1h-1zM15 5h1v1h-1zM18 5h1v1h-1zM28 5h1v1h-1zM5 6h1v1h-1zM8 6h1v1h-1zM13 6h1v1h-1zM15 6h1v1h-1zM-1 8h1v1h-1zM0 8h1v1h-1zM1 8h1v1h-1zM2 8h1v1h-1zM3 8h1v1h-1zM5 8h1v1h-1zM6 8h1v1h-1zM9 8h1v1h-1zM10 8h1v1h-1zM11 8h1v1h-1zM12 8h1v1h-1zM13 8h1v1h-1zM14 8h1v1h-1zM16 8h1v1h-1zM17 8h1v1h-1zM18 8h1v1h-1zM20 8h1v1h-1zM21 8h1v1h-1zM22 8h1v1h-1zM23 8h1v1h-1zM27 8h1v1h-1zM28 8h1v1h-1zM29 8h1v1h-1zM30 8h1v1h-1zM8 9h1v1h-1zM8 10h1v1h-1zM8 11h1v1h-1zM8 12h1v1h-1zM4 13h1v1h-1zM6 13h1v1h-1zM8 13h1v1h-1zM21 13h1v1h-1zM23 13h1v1h-1zM8 14h1v1h-1zM5 15h1v1h-1zM6 15h1v1h-1zM28 15h1v1h-1zM8 16h1v1h-1zM18 16h1v1h-1zM21 16h1v1h-1zM28 16h1v1h-1zM8 17h1v1h-1zM1 18h1v1h-1zM4 18h1v1h-1zM5 18h1v1h-1zM8 18h1v1h-1zM16 18h1v1h-1zM21 18h1v1h-1zM23 18h1v1h-1zM28 18h1v1h-1zM8 20h1v1h-1zM4 21h1v1h-1zM8 21h1v1h-1zM13 21h1v1h-1zM16 21h1v1h-1zM18 21h1v1h-1zM27 21h1v1h-1zM28 21h1v1h-1zM8 22h1v1h-1zM8 23h1v1h-1zM13 23h1v1h-1zM18 23h1v1h-1zM8 27h1v1h-1zM21 27h1v1h-1zM4 28h1v1h-1zM5 28h1v1h-1zM8 28h1v1h-1zM15 28h1v1h-1zM16 28h1v1h-1zM18 28h1v1h-1zM21 28h1v1h-1zM8 29h1v1h-1zM8 30h1v1h-1z"/><path fill="#2a77c6" d="M13 -1h1v1h-1zM14 -1h1v1h-1zM16 -1h1v1h-1zM23 -1h1v1h-1zM13 0h1v1h-1zM14 0h1v1h-1zM16 0h1v1h-1zM23 0h1v1h-1zM14 1h1v1h-1zM13 2h1v1h-1zM14 2h1v1h-1zM16 2h1v1h-1zM23 2h1v1h-1zM13 3h1v1h-1zM16 3h1v1h-1zM23 3h1v1h-1zM9 4h1v1h-1zM10 4h1v1h-1zM11 4h1v1h-1zM20 4h1v1h-1zM24 4h1v1h-1zM25 4h1v1h-1zM11 5h1v1h-1zM17 5h1v1h-1zM20 5h1v1h-1zM24 5h1v1h-1zM25 5h1v1h-1zM29 5h1v1h-1zM30 5h1v1h-1zM7 6h1v1h-1zM9 6h1v1h-1zM10 6h1v1h-1zM12 6h1v1h-1zM17 6h1v1h-1zM19 6h1v1h-1zM20 6h1v1h-1zM22 6h1v1h-1zM24 6h1v1h-1zM25 6h1v1h-1zM29 6h1v1h-1zM30 6h1v1h-1zM6 7h1v1h-1zM13 7h1v1h-1zM18 7h1v1h-1zM28 7h1v1h-1zM4 9h1v1h-1zM6 9h1v1h-1zM13 9h1v1h-1zM21 9h1v1h-1zM28 9h1v1h-1zM4 10h1v1h-1zM6 10h1v1h-1zM4 11h1v1h-1zM5 11h1v1h-1zM14 11h1v1h-1zM6 12h1v1h-1zM13 12h1v1h-1zM14 12h1v1h-1zM16 12h1v1h-1zM-1 13h1v1h-1zM0 13h1v1h-1zM2 13h1v1h-1zM3 13h1v1h-1zM7 13h1v1h-1zM9 13h1v1h-1zM12 13h1v1h-1zM17 13h1v1h-1zM26 13h1v1h-1zM29 13h1v1h-1zM30 13h1v1h-1zM-1 14h1v1h-1zM0 14h1v1h-1zM1 14h1v1h-1zM2 14h1v1h-1zM11 14h1v1h-1zM12 14h1v1h-1zM15 14h1v1h-1zM23 14h1v1h-1zM14 15h1v1h-1zM-1 16h1v1h-1zM0 16h1v1h-1zM2 16h1v1h-1zM3 16h1v1h-1zM12 16h1v1h-1zM19 16h1v1h-1zM27 16h1v1h-1zM5 17h1v1h-1zM6 17h1v1h-1zM13 17h1v1h-1zM21 17h1v1h-1zM28 17h1v1h-1zM7 18h1v1h-1zM20 18h1v1h-1zM22 18h1v1h-1zM26 18h1v1h-1zM6 19h1v1h-1zM16 19h1v1h-1zM4 20h1v1h-1zM5 20h1v1h-1zM6 20h1v1h-1zM18 20h1v1h-1zM21 20h1v1h-1zM9 21h1v1h-1zM17 21h1v1h-1zM20 21h1v1h-1zM26 21h1v1h-1zM6 22h1v1h-1zM18 22h1v1h-1zM-1 23h1v1h-1zM0 23h1v1h-1zM2 23h1v1h-1zM3 23h1v1h-1zM14 23h1v1h-1zM4 24h1v1h-1zM5 24h1v1h-1zM6 24h1v1h-1zM28 24h1v1h-1zM4 25h1v1h-1zM5 25h1v1h-1zM6 25h1v1h-1zM28 25h1v1h-1zM13 26h1v1h-1zM18 26h1v1h-1zM21 26h1v1h-1zM28 26h1v1h-1zM16 27h1v1h-1zM7 28h1v1h-1zM9 28h1v1h-1zM17 28h1v1h-1zM24 28h1v1h-1zM25 28h1v1h-1zM26 28h1v1h-1zM5 29h1v1h-1zM6 29h1v1h-1zM13 29h1v1h-1zM5 30h1v1h-1zM6 30h1v1h-1zM13 30h1v1h-1z"/><path fill="#3ebcd8" d="M20 -1h1v1h-1zM20 0h1v1h-1zM17 2h1v1h-1zM24 2h1v1h-1zM10 7h1v1h-1zM12 7h1v1h-1zM10 9h1v1h-1zM24 9h1v1h-1zM25 9h1v1h-1zM7 10h1v1h-1zM9 10h1v1h-1zM11 10h1v1h-1zM17 10h1v1h-1zM25 10h1v1h-1zM26 10h1v1h-1zM10 11h1v1h-1zM7 12h1v1h-1zM17 12h1v1h-1zM2 17h1v1h-1zM10 17h1v1h-1zM12 17h1v1h-1zM22 17h1v1h-1zM-1 20h1v1h-1zM0 20h1v1h-1zM17 22h1v1h-1zM2 24h1v1h-1zM9 24h1v1h-1zM9 25h1v1h-1zM10 25h1v1h-1zM10 26h1v1h-1z"/><path fill="#2a59af" d="M21 -1h1v1h-1zM21 0h1v1h-1zM21 1h1v1h-1zM28 1h1v1h-1zM15 4h1v1h-1zM23 4h1v1h-1zM18 6h1v1h-1zM28 6h1v1h-1zM8 7h1v1h-1zM7 8h1v1h-1zM24 8h1v1h-1zM25 8h1v1h-1zM26 8h1v1h-1zM15 13h1v1h-1zM16 13h1v1h-1zM18 13h1v1h-1zM19 13h1v1h-1zM20 13h1v1h-1zM24 13h1v1h-1zM28 13h1v1h-1zM4 15h1v1h-1zM13 15h1v1h-1zM21 15h1v1h-1zM13 16h1v1h-1zM23 16h1v1h-1zM6 18h1v1h-1zM13 18h1v1h-1zM24 18h1v1h-1zM27 18h1v1h-1zM13 19h1v1h-1zM28 19h1v1h-1zM13 20h1v1h-1zM28 20h1v1h-1zM-1 21h1v1h-1zM0 21h1v1h-1zM1 21h1v1h-1zM15 21h1v1h-1zM23 21h1v1h-1zM4 23h1v1h-1zM16 23h1v1h-1zM21 23h1v1h-1zM8 24h1v1h-1zM13 24h1v1h-1zM18 24h1v1h-1zM8 25h1v1h-1zM8 26h1v1h-1zM18 27h1v1h-1zM1 28h1v1h-1zM6 28h1v1h-1zM13 28h1v1h-1zM19 28h1v1h-1zM20 28h1v1h-1z"/><path fill="#2a8ad2" d="M2 1h1v1h-1zM15 1h1v1h-1zM19 1h1v1h-1zM29 1h1v1h-1zM30 1h1v1h-1zM1 2h1v1h-1zM14 3h1v1h-1zM19 3h1v1h-1zM29 3h1v1h-1zM30 3h1v1h-1zM6 4h1v1h-1zM12 4h1v1h-1zM26 4h1v1h-1zM7 5h1v1h-1zM9 5h1v1h-1zM10 5h1v1h-1zM12 5h1v1h-1zM22 5h1v1h-1zM26 5h1v1h-1zM4 6h1v1h-1zM26 6h1v1h-1zM5 7h1v1h-1zM16 7h1v1h-1zM5 9h1v1h-1zM14 9h1v1h-1zM15 9h1v1h-1zM16 9h1v1h-1zM29 9h1v1h-1zM30 9h1v1h-1zM5 10h1v1h-1zM13 10h1v1h-1zM16 10h1v1h-1zM13 11h1v1h-1zM15 11h1v1h-1zM27 11h1v1h-1zM4 12h1v1h-1zM5 12h1v1h-1zM10 13h1v1h-1zM11 13h1v1h-1zM25 13h1v1h-1zM3 14h1v1h-1zM9 14h1v1h-1zM16 14h1v1h-1zM20 14h1v1h-1zM27 14h1v1h-1zM1 15h1v1h-1zM9 15h1v1h-1zM11 15h1v1h-1zM16 15h1v1h-1zM23 15h1v1h-1zM29 15h1v1h-1zM30 15h1v1h-1zM7 16h1v1h-1zM9 16h1v1h-1zM10 16h1v1h-1zM14 16h1v1h-1zM15 16h1v1h-1zM22 16h1v1h-1zM29 16h1v1h-1zM30 16h1v1h-1zM1 19h1v1h-1zM3 19h1v1h-1zM23 19h1v1h-1zM29 19h1v1h-1zM30 19h1v1h-1zM14 20h1v1h-1zM29 20h1v1h-1zM30 20h1v1h-1zM5 22h1v1h-1zM16 22h1v1h-1zM15 23h1v1h-1zM19 23h1v1h-1zM29 23h1v1h-1zM30 23h1v1h-1zM13 25h1v1h-1zM4 26h1v1h-1zM5 26h1v1h-1zM6 26h1v1h-1zM11 27h1v1h-1zM14 27h1v1h-1zM29 27h1v1h-1zM30 27h1v1h-1zM1 29h1v1h-1zM3 29h1v1h-1zM9 29h1v1h-1zM15 29h1v1h-1zM16 29h1v1h-1zM19 29h1v1h-1zM20 29h1v1h-1zM23 29h1v1h-1zM27 29h1v1h-1zM1 30h1v1h-1zM3 30h1v1h-1zM9 30h1v1h-1zM15 30h1v1h-1zM16 30h1v1h-1zM19 30h1v1h-1zM20 30h1v1h-1zM23 30h1v1h-1zM27 30h1v1h-1z"/><path fill="#33b5df" d="M20 1h1v1h-1zM7 2h1v1h-1zM9 2h1v1h-1zM15 2h1v1h-1zM22 2h1v1h-1zM25 2h1v1h-1zM27 2h1v1h-1zM2 7h1v1h-1zM9 7h1v1h-1zM11 7h1v1h-1zM20 7h1v1h-1zM25 7h1v1h-1zM2 9h1v1h-1zM7 9h1v1h-1zM12 10h1v1h-1zM15 10h1v1h-1zM20 10h1v1h-1zM22 10h1v1h-1zM7 11h1v1h-1zM25 11h1v1h-1zM10 12h1v1h-1zM19 12h1v1h-1zM25 12h1v1h-1zM2 15h1v1h-1zM10 15h1v1h-1zM12 19h1v1h-1zM1 20h1v1h-1zM7 20h1v1h-1zM10 20h1v1h-1zM26 20h1v1h-1zM2 22h1v1h-1zM10 22h1v1h-1zM25 22h1v1h-1zM26 22h1v1h-1zM2 25h1v1h-1zM7 25h1v1h-1zM11 25h1v1h-1zM12 25h1v1h-1zM22 25h1v1h-1zM20 26h1v1h-1zM22 26h1v1h-1zM2 27h1v1h-1z"/><path fill="#4dbcb5" d="M10 2h1v1h-1zM20 2h1v1h-1zM2 10h1v1h-1zM25 17h1v1h-1zM2 20h1v1h-1zM17 25h1v1h-1z"/><path fill="#26469e" d="M8 4h1v1h-1zM4 8h1v1h-1z"/><path fill="#243e98" d="M15 8h1v1h-1zM19 8h1v1h-1zM8 15h1v1h-1zM8 19h1v1h-1z"/><path fill="#91c640" d="M26 12h1v1h-1zM12 26h1v1h-1z"/></g><path filter="url(#bdd)" fill="none" stroke="#1a4a50" stroke-opacity="0.22" stroke-width="0.14" d="M0.02 0.02h0.96v0.96h-0.96zM1.02 1.02h0.96v0.96h-0.96zM2.02 2.02h0.96v0.96h-0.96zM3.02 3.02h0.96v0.96h-0.96zM4.02 4.02h0.96v0.96h-0.96zM5.02 5.02h0.96v0.96h-0.96zM6.02 6.02h0.96v0.96h-0.96zM7.02 7.02h0.96v0.96h-0.96zM8.02 8.02h0.96v0.96h-0.96zM9.02 9.02h0.96v0.96h-0.96zM10.02 10.02h0.96v0.96h-0.96zM11.02 11.02h0.96v0.96h-0.96zM12.02 12.02h0.96v0.96h-0.96zM13.02 13.02h0.96v0.96h-0.96zM14.02 14.02h0.96v0.96h-0.96zM15.02 15.02h0.96v0.96h-0.96zM16.02 16.02h0.96v0.96h-0.96zM17.02 17.02h0.96v0.96h-0.96zM18.02 18.02h0.96v0.96h-0.96zM19.02 19.02h0.96v0.96h-0.96zM20.02 20.02h0.96v0.96h-0.96zM21.02 21.02h0.96v0.96h-0.96zM22.02 22.02h0.96v0.96h-0.96zM23.02 23.02h0.96v0.96h-0.96zM24.02 24.02h0.96v0.96h-0.96zM25.02 25.02h0.96v0.96h-0.96zM26.02 26.02h0.96v0.96h-0.96zM27.02 27.02h0.96v0.96h-0.96zM28.02 28.02h0.96v0.96h-0.96zM29.02 29.02h0.96v0.96h-0.96z"/><path filter="url(#bdd)" fill="#f0e632" stroke="#f6f0a0" stroke-width="0.07" d="M0.09 0.09h0.82v0.82h-0.82zM1.09 1.09h0.82v0.82h-0.82zM2.09 2.09h0.82v0.82h-0.82zM3.09 3.09h0.82v0.82h-0.82zM4.09 4.09h0.82v0.82h-0.82zM5.09 5.09h0.82v0.82h-0.82zM6.09 6.09h0.82v0.82h-0.82zM7.09 7.09h0.82v0.82h-0.82zM8.09 8.09h0.82v0.82h-0.82zM9.09 9.09h0.82v0.82h-0.82zM10.09 10.09h0.82v0.82h-0.82zM11.09 11.09h0.82v0.82h-0.82zM12.09 12.09h0.82v0.82h-0.82zM13.09 13.09h0.82v0.82h-0.82zM14.09 14.09h0.82v0.82h-0.82zM15.09 15.09h0.82v0.82h-0.82zM16.09 16.09h0.82v0.82h-0.82zM17.09 17.09h0.82v0.82h-0.82zM18.09 18.09h0.82v0.82h-0.82zM19.09 19.09h0.82v0.82h-0.82zM20.09 20.09h0.82v0.82h-0.82zM21.09 21.09h0.82v0.82h-0.82zM22.09 22.09h0.82v0.82h-0.82zM23.09 23.09h0.82v0.82h-0.82zM24.09 24.09h0.82v0.82h-0.82zM25.09 25.09h0.82v0.82h-0.82zM26.09 26.09h0.82v0.82h-0.82zM27.09 27.09h0.82v0.82h-0.82zM28.09 28.09h0.82v0.82h-0.82zM29.09 29.09h0.82v0.82h-0.82z"/></svg><rect x="538.3" y="424.2" width="319.30" height="285.00" fill="none" stroke="#101830" stroke-width="1.2"/><defs><linearGradient id="cbg" x1="0" y1="0" x2="0" y2="1"><stop offset="-0.0004" stop-color="#20328c"/><stop offset="0.0192" stop-color="#223a94"/><stop offset="0.0466" stop-color="#26459e"/><stop offset="0.1366" stop-color="#284ca2"/><stop offset="0.2032" stop-color="#2a58a8"/><stop offset="0.2737" stop-color="#2c60b0"/><stop offset="0.3324" stop-color="#2e78c5"/><stop offset="0.3716" stop-color="#2a90d5"/><stop offset="0.4107" stop-color="#2aa8e0"/><stop offset="0.4499" stop-color="#30b5e5"/><stop offset="0.4812" stop-color="#40b8d8"/><stop offset="0.5086" stop-color="#50b8b8"/><stop offset="0.5478" stop-color="#60b898"/><stop offset="0.5869" stop-color="#6cb878"/><stop offset="0.6261" stop-color="#78bc50"/><stop offset="0.6652" stop-color="#8cc038"/><stop offset="0.7044" stop-color="#a8c830"/><stop offset="0.7357" stop-color="#d8dc30"/><stop offset="0.7553" stop-color="#eedc30"/><stop offset="0.7788" stop-color="#f4ce30"/><stop offset="0.8101" stop-color="#f5c82c"/><stop offset="0.8336" stop-color="#f2d230"/><stop offset="0.8571" stop-color="#eee030"/><stop offset="0.8884" stop-color="#ece838"/><stop offset="0.9980" stop-color="#ece838"/></linearGradient></defs><rect x="913.4" y="195.1" width="46.20" height="255.40" fill="url(#cbg)" stroke="#101830" stroke-width="1.2"/><text transform="translate(55.49,108.22) scale(1.121,1)" font-size="33.82" fill="#000" stroke="#fff" stroke-width="0.45">10</text><text transform="translate(56.21,205.33) scale(1.107,1)" font-size="33.58" fill="#000" stroke="#fff" stroke-width="0.45">20</text><text transform="translate(55.50,300.63) scale(1.129,1)" font-size="33.58" fill="#000" stroke="#fff" stroke-width="0.45">30</text><text transform="translate(495.38,117.03) scale(1.140,1)" font-size="33.38" fill="#000" stroke="#fff" stroke-width="0.45">10</text><text transform="translate(496.21,214.13) scale(1.112,1)" font-size="33.43" fill="#000" stroke="#fff" stroke-width="0.45">20</text><text transform="translate(495.50,309.72) scale(1.119,1)" font-size="33.88" fill="#000" stroke="#fff" stroke-width="0.45">30</text><text transform="translate(55.41,526.13) scale(1.120,1)" font-size="33.68" fill="#000" stroke="#fff" stroke-width="0.45">10</text><text transform="translate(56.23,623.03) scale(1.102,1)" font-size="33.43" fill="#000" stroke="#fff" stroke-width="0.45">20</text><text transform="translate(55.52,722.63) scale(1.119,1)" font-size="33.58" fill="#000" stroke="#fff" stroke-width="0.45">30</text><text transform="translate(493.41,520.13) scale(1.120,1)" font-size="33.68" fill="#000" stroke="#fff" stroke-width="0.45">10</text><text transform="translate(494.02,616.93) scale(1.099,1)" font-size="33.73" fill="#000" stroke="#fff" stroke-width="0.45">20</text><text transform="translate(493.10,712.82) scale(1.122,1)" font-size="33.88" fill="#000" stroke="#fff" stroke-width="0.45">30</text><text transform="translate(180.44,326.84) scale(1.124,1)" font-size="33.24" fill="#000" stroke="#fff" stroke-width="0.45">10</text><text transform="translate(291.31,326.83) scale(1.102,1)" font-size="33.73" fill="#000" stroke="#fff" stroke-width="0.45">20</text><text transform="translate(396.40,326.83) scale(1.124,1)" font-size="33.73" fill="#000" stroke="#fff" stroke-width="0.45">30</text><text transform="translate(620.39,335.54) scale(1.151,1)" font-size="32.94" fill="#000" stroke="#fff" stroke-width="0.45">10</text><text transform="translate(731.52,335.53) scale(1.105,1)" font-size="33.43" fill="#000" stroke="#fff" stroke-width="0.45">20</text><text transform="translate(836.42,335.53) scale(1.124,1)" font-size="33.43" fill="#000" stroke="#fff" stroke-width="0.45">30</text><text transform="translate(180.42,748.54) scale(1.141,1)" font-size="32.94" fill="#000" stroke="#fff" stroke-width="0.45">10</text><text transform="translate(291.31,748.53) scale(1.112,1)" font-size="33.43" fill="#000" stroke="#fff" stroke-width="0.45">20</text><text transform="translate(396.42,748.53) scale(1.124,1)" font-size="33.43" fill="#000" stroke="#fff" stroke-width="0.45">30</text><text transform="translate(618.25,738.34) scale(1.121,1)" font-size="33.24" fill="#000" stroke="#fff" stroke-width="0.45">10</text><text transform="translate(728.49,738.33) scale(1.121,1)" font-size="33.73" fill="#000" stroke="#fff" stroke-width="0.45">20</text><text transform="translate(833.62,738.33) scale(1.117,1)" font-size="33.73" fill="#000" stroke="#fff" stroke-width="0.45">30</text><g transform="translate(272.60,352.80)"><circle cx="7.6" cy="1.6" r="1.55" fill="#000"/><path d="M0.4,12.6 C1.5,9.5 3.5,7.3 5.2,7.3 C6.8,7.3 7.6,8.3 7.2,9.8 L4.3,18.5 C3.8,20.3 4.2,21.8 5.3,21.8 C7.2,21.8 9.0,19.5 10.0,17.4" fill="none" stroke="#000" stroke-width="1.2" stroke-linecap="round"/><path d="M7.0,10.0 L4.4,18.3" stroke="#000" stroke-width="2.4" stroke-linecap="round"/></g><g transform="translate(712.80,362.00)"><circle cx="7.6" cy="1.6" r="1.55" fill="#000"/><path d="M0.4,12.6 C1.5,9.5 3.5,7.3 5.2,7.3 C6.8,7.3 7.6,8.3 7.2,9.8 L4.3,18.5 C3.8,20.3 4.2,21.8 5.3,21.8 C7.2,21.8 9.0,19.5 10.0,17.4" fill="none" stroke="#000" stroke-width="1.2" stroke-linecap="round"/><path d="M7.0,10.0 L4.4,18.3" stroke="#000" stroke-width="2.4" stroke-linecap="round"/></g><g transform="translate(272.80,775.00)"><circle cx="7.6" cy="1.6" r="1.55" fill="#000"/><path d="M0.4,12.6 C1.5,9.5 3.5,7.3 5.2,7.3 C6.8,7.3 7.6,8.3 7.2,9.8 L4.3,18.5 C3.8,20.3 4.2,21.8 5.3,21.8 C7.2,21.8 9.0,19.5 10.0,17.4" fill="none" stroke="#000" stroke-width="1.2" stroke-linecap="round"/><path d="M7.0,10.0 L4.4,18.3" stroke="#000" stroke-width="2.4" stroke-linecap="round"/></g><g transform="translate(710.40,764.50)"><circle cx="7.6" cy="1.6" r="1.55" fill="#000"/><path d="M0.4,12.6 C1.5,9.5 3.5,7.3 5.2,7.3 C6.8,7.3 7.6,8.3 7.2,9.8 L4.3,18.5 C3.8,20.3 4.2,21.8 5.3,21.8 C7.2,21.8 9.0,19.5 10.0,17.4" fill="none" stroke="#000" stroke-width="1.2" stroke-linecap="round"/><path d="M7.0,10.0 L4.4,18.3" stroke="#000" stroke-width="2.4" stroke-linecap="round"/></g><g transform="translate(6.00,176.80) rotate(-90)"><circle cx="7.6" cy="1.6" r="1.55" fill="#000"/><path d="M0.4,12.6 C1.5,9.5 3.5,7.3 5.2,7.3 C6.8,7.3 7.6,8.3 7.2,9.8 L4.3,18.5 C3.8,20.3 4.2,21.8 5.3,21.8 C7.2,21.8 9.0,19.5 10.0,17.4" fill="none" stroke="#000" stroke-width="1.2" stroke-linecap="round"/><path d="M7.0,10.0 L4.4,18.3" stroke="#000" stroke-width="2.4" stroke-linecap="round"/></g><g transform="translate(446.10,185.80) rotate(-90)"><circle cx="7.6" cy="1.6" r="1.55" fill="#000"/><path d="M0.4,12.6 C1.5,9.5 3.5,7.3 5.2,7.3 C6.8,7.3 7.6,8.3 7.2,9.8 L4.3,18.5 C3.8,20.3 4.2,21.8 5.3,21.8 C7.2,21.8 9.0,19.5 10.0,17.4" fill="none" stroke="#000" stroke-width="1.2" stroke-linecap="round"/><path d="M7.0,10.0 L4.4,18.3" stroke="#000" stroke-width="2.4" stroke-linecap="round"/></g><g transform="translate(6.00,598.90) rotate(-90)"><circle cx="7.6" cy="1.6" r="1.55" fill="#000"/><path d="M0.4,12.6 C1.5,9.5 3.5,7.3 5.2,7.3 C6.8,7.3 7.6,8.3 7.2,9.8 L4.3,18.5 C3.8,20.3 4.2,21.8 5.3,21.8 C7.2,21.8 9.0,19.5 10.0,17.4" fill="none" stroke="#000" stroke-width="1.2" stroke-linecap="round"/><path d="M7.0,10.0 L4.4,18.3" stroke="#000" stroke-width="2.4" stroke-linecap="round"/></g><g transform="translate(443.50,588.90) rotate(-90)"><circle cx="7.6" cy="1.6" r="1.55" fill="#000"/><path d="M0.4,12.6 C1.5,9.5 3.5,7.3 5.2,7.3 C6.8,7.3 7.6,8.3 7.2,9.8 L4.3,18.5 C3.8,20.3 4.2,21.8 5.3,21.8 C7.2,21.8 9.0,19.5 10.0,17.4" fill="none" stroke="#000" stroke-width="1.2" stroke-linecap="round"/><path d="M7.0,10.0 L4.4,18.3" stroke="#000" stroke-width="2.4" stroke-linecap="round"/></g><text transform="translate(968.85,231.02) scale(1.145,1)" font-size="33.88" fill="#000" stroke="#fff" stroke-width="0.45">0.2</text><text transform="translate(968.87,286.51) scale(1.102,1)" font-size="34.63" fill="#000" stroke="#fff" stroke-width="0.45">0.4</text><text transform="translate(968.88,343.72) scale(1.121,1)" font-size="33.88" fill="#000" stroke="#fff" stroke-width="0.45">0.6</text><text transform="translate(968.87,405.12) scale(1.130,1)" font-size="33.88" fill="#000" stroke="#fff" stroke-width="0.45">0.8</text><text transform="translate(364.23,48.51) scale(1.054,1)" font-size="37.11" fill="#fff">(a)</text><text transform="translate(804.23,57.20) scale(1.071,1)" font-size="36.67" fill="#fff">(b)</text><text transform="translate(352.63,460.68) scale(1.000,1)" font-size="36.78" fill="#1a1010">(c)</text><text transform="translate(796.24,468.17) scale(1.073,1)" font-size="36.33" fill="#1a1010">(d)</text></svg></body></html>
